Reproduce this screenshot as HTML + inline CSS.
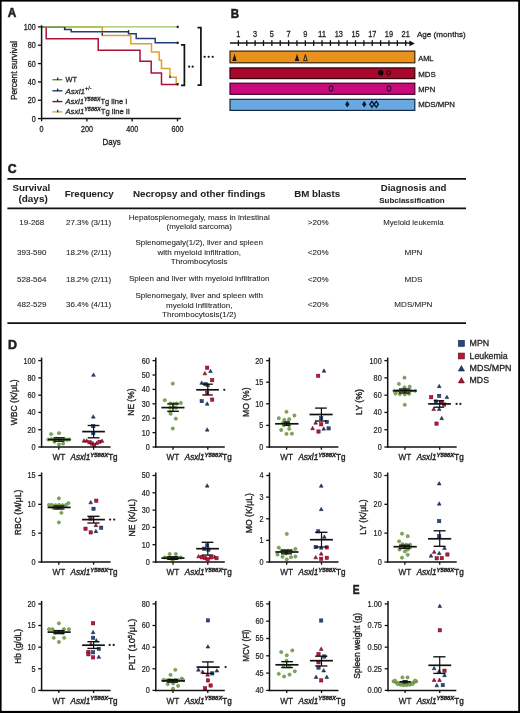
<!DOCTYPE html>
<html><head><meta charset="utf-8"><style>
html,body{margin:0;padding:0;background:#fff;}
body{width:520px;height:713px;overflow:hidden;}
svg{display:block;font-family:"Liberation Sans", sans-serif;will-change:transform;}
text{fill:#231f20;stroke:#231f20;stroke-width:0.28px;}
text[font-weight="bold"]{stroke-width:0.05px;}
text.pl{stroke-width:0.6px;}
text.tk{stroke-width:0.22px;}
text.yl{stroke-width:0.36px;}
text.tb{stroke-width:0.08px;}
text.xl{stroke-width:0.38px;}
</style></head><body>
<svg width="520" height="713" viewBox="0 0 520 713">
<rect width="520" height="713" fill="#fff"/>
<text x="7.80" y="17.20" font-size="13.4" text-anchor="start" font-weight="bold" textLength="8.50" lengthAdjust="spacingAndGlyphs" class="pl">A</text>
<path d="M41.60 26.90 L102.30 26.90 L102.30 35.40 L130.80 35.40 L130.80 43.80 L151.50 43.80 L151.50 52.00 L159.20 52.00 L159.20 60.30 L161.50 60.30 L161.50 68.50 L170.00 68.50 L170.00 77.20 L176.20 77.20 L176.20 83.80 L177.60 83.80" stroke="#e0a030" fill="none" stroke-width="1.5" stroke-linejoin="miter"/>
<path d="M41.60 26.90 L46.20 26.90 L46.20 38.80 L98.20 38.80 L98.20 50.30 L140.00 50.30 L140.00 61.20 L151.20 61.20 L151.20 73.00 L161.50 73.00 L161.50 84.60 L177.60 84.60" stroke="#aa1238" fill="none" stroke-width="1.5" stroke-linejoin="miter"/>
<path d="M41.60 26.90 L64.60 26.90 L64.60 29.50 L71.20 29.50 L71.20 31.70 L128.50 31.70 L128.50 33.80 L136.20 33.80 L136.20 38.50 L155.20 38.50 L155.20 42.80 L177.60 42.80" stroke="#243f78" fill="none" stroke-width="1.5" stroke-linejoin="miter"/>
<path d="M41.60 26.90 L177.60 26.90" stroke="#98c462" fill="none" stroke-width="1.35" stroke-linejoin="miter"/>
<rect x="176.70" y="25.70" width="2.00" height="2.40" fill="#231f20"/>
<rect x="176.70" y="41.60" width="2.00" height="2.40" fill="#231f20"/>
<rect x="176.70" y="83.00" width="2.00" height="2.40" fill="#231f20"/>
<rect x="64.00" y="27.40" width="1.20" height="2.40" fill="#231f20"/>
<rect x="101.70" y="33.00" width="1.20" height="2.40" fill="#231f20"/>
<rect x="127.90" y="30.10" width="1.20" height="2.40" fill="#231f20"/>
<rect x="169.40" y="75.60" width="1.20" height="2.40" fill="#231f20"/>
<line x1="41.60" y1="25.20" x2="41.60" y2="119.30" stroke="#111" stroke-width="1.5" stroke-linecap="butt"/>
<line x1="40.90" y1="118.60" x2="180.90" y2="118.60" stroke="#111" stroke-width="1.5" stroke-linecap="butt"/>
<line x1="37.90" y1="118.60" x2="41.60" y2="118.60" stroke="#111" stroke-width="1.3" stroke-linecap="butt"/>
<text x="35.70" y="121.54" font-size="8.2" text-anchor="end" textLength="4.00" lengthAdjust="spacingAndGlyphs" >0</text>
<line x1="37.90" y1="100.26" x2="41.60" y2="100.26" stroke="#111" stroke-width="1.3" stroke-linecap="butt"/>
<text x="35.70" y="103.20" font-size="8.2" text-anchor="end" textLength="8.00" lengthAdjust="spacingAndGlyphs" >20</text>
<line x1="37.90" y1="81.92" x2="41.60" y2="81.92" stroke="#111" stroke-width="1.3" stroke-linecap="butt"/>
<text x="35.70" y="84.86" font-size="8.2" text-anchor="end" textLength="8.00" lengthAdjust="spacingAndGlyphs" >40</text>
<line x1="37.90" y1="63.58" x2="41.60" y2="63.58" stroke="#111" stroke-width="1.3" stroke-linecap="butt"/>
<text x="35.70" y="66.52" font-size="8.2" text-anchor="end" textLength="8.00" lengthAdjust="spacingAndGlyphs" >60</text>
<line x1="37.90" y1="45.24" x2="41.60" y2="45.24" stroke="#111" stroke-width="1.3" stroke-linecap="butt"/>
<text x="35.70" y="48.18" font-size="8.2" text-anchor="end" textLength="8.00" lengthAdjust="spacingAndGlyphs" >80</text>
<line x1="37.90" y1="26.90" x2="41.60" y2="26.90" stroke="#111" stroke-width="1.3" stroke-linecap="butt"/>
<text x="35.70" y="29.84" font-size="8.2" text-anchor="end" textLength="12.00" lengthAdjust="spacingAndGlyphs" >100</text>
<line x1="41.60" y1="118.60" x2="41.60" y2="121.40" stroke="#111" stroke-width="1.3" stroke-linecap="butt"/>
<text x="41.60" y="132.34" font-size="8.2" text-anchor="middle" textLength="4.00" lengthAdjust="spacingAndGlyphs" >0</text>
<line x1="86.90" y1="118.60" x2="86.90" y2="121.40" stroke="#111" stroke-width="1.3" stroke-linecap="butt"/>
<text x="86.90" y="132.34" font-size="8.2" text-anchor="middle" textLength="12.00" lengthAdjust="spacingAndGlyphs" >200</text>
<line x1="132.20" y1="118.60" x2="132.20" y2="121.40" stroke="#111" stroke-width="1.3" stroke-linecap="butt"/>
<text x="132.20" y="132.34" font-size="8.2" text-anchor="middle" textLength="12.00" lengthAdjust="spacingAndGlyphs" >400</text>
<line x1="177.50" y1="118.60" x2="177.50" y2="121.40" stroke="#111" stroke-width="1.3" stroke-linecap="butt"/>
<text x="177.50" y="132.34" font-size="8.2" text-anchor="middle" textLength="12.00" lengthAdjust="spacingAndGlyphs" >600</text>
<text x="102.60" y="144.60" font-size="9.4" text-anchor="start" textLength="18.00" lengthAdjust="spacingAndGlyphs" class="yl">Days</text>
<text x="13.25" y="73.90" font-size="9.3" text-anchor="middle" textLength="59.00" lengthAdjust="spacingAndGlyphs" transform="rotate(-90 13.25 70.60)" class="yl">Percent survival</text>
<path d="M181.00 44.80 L184.40 44.80 L184.40 85.40 L181.00 85.40" stroke="#111" fill="none" stroke-width="1.7" />
<path d="M197.50 27.70 L200.90 27.70 L200.90 85.20 L197.50 85.20" stroke="#111" fill="none" stroke-width="1.7" />
<circle cx="189.10" cy="66.70" r="1.15" fill="#231f20"/>
<circle cx="192.70" cy="66.70" r="1.15" fill="#231f20"/>
<circle cx="204.70" cy="56.80" r="1.15" fill="#231f20"/>
<circle cx="208.70" cy="56.80" r="1.15" fill="#231f20"/>
<circle cx="212.70" cy="56.80" r="1.15" fill="#231f20"/>
<line x1="52.40" y1="79.70" x2="62.40" y2="79.70" stroke="#5f8a3a" stroke-width="1.4" stroke-linecap="butt"/>
<rect x="57.10" y="77.50" width="1.20" height="2.60" fill="#231f20"/>
<line x1="52.40" y1="90.80" x2="62.40" y2="90.80" stroke="#1e3a6a" stroke-width="1.4" stroke-linecap="butt"/>
<rect x="57.10" y="88.60" width="1.20" height="2.60" fill="#231f20"/>
<line x1="52.40" y1="101.60" x2="62.40" y2="101.60" stroke="#8a0f30" stroke-width="1.4" stroke-linecap="butt"/>
<rect x="57.10" y="99.40" width="1.20" height="2.60" fill="#231f20"/>
<line x1="52.40" y1="111.90" x2="62.40" y2="111.90" stroke="#d9a25a" stroke-width="1.4" stroke-linecap="butt"/>
<rect x="57.10" y="109.70" width="1.20" height="2.60" fill="#231f20"/>
<text x="65.50" y="82.06" font-size="8.0" text-anchor="start" textLength="11.50" lengthAdjust="spacingAndGlyphs" >WT</text>
<text x="65.50" y="93.76" font-size="8.0" text-anchor="start" textLength="26.00" lengthAdjust="spacingAndGlyphs" ><tspan font-style="italic">Asxl1</tspan><tspan font-size="5.4" dy="-3.4">+/-</tspan></text>
<text x="65.50" y="104.46" font-size="8.0" text-anchor="start" textLength="61.80" lengthAdjust="spacingAndGlyphs" ><tspan font-style="italic">Asxl1</tspan><tspan font-size="5.8" font-style="italic" font-weight="bold" dy="-3.5">Y588X</tspan><tspan dy="3.5">Tg line I</tspan></text>
<text x="65.50" y="114.16" font-size="8.0" text-anchor="start" textLength="64.50" lengthAdjust="spacingAndGlyphs" ><tspan font-style="italic">Asxl1</tspan><tspan font-size="5.8" font-style="italic" font-weight="bold" dy="-3.5">Y588X</tspan><tspan dy="3.5">Tg line II</tspan></text>
<text x="230.80" y="17.60" font-size="13.4" text-anchor="start" font-weight="bold" textLength="8.30" lengthAdjust="spacingAndGlyphs" class="pl">B</text>
<line x1="229.90" y1="43.10" x2="411.50" y2="43.10" stroke="#111" stroke-width="1.5" stroke-linecap="butt"/>
<path d="M414.8 43.4 L409.4 40.6 L409.4 46.2 Z" fill="#111"/>
<line x1="238.40" y1="40.20" x2="238.40" y2="46.00" stroke="#111" stroke-width="1.3" stroke-linecap="butt"/>
<line x1="246.77" y1="40.20" x2="246.77" y2="46.00" stroke="#111" stroke-width="1.3" stroke-linecap="butt"/>
<line x1="255.13" y1="40.20" x2="255.13" y2="46.00" stroke="#111" stroke-width="1.3" stroke-linecap="butt"/>
<line x1="263.50" y1="40.20" x2="263.50" y2="46.00" stroke="#111" stroke-width="1.3" stroke-linecap="butt"/>
<line x1="271.86" y1="40.20" x2="271.86" y2="46.00" stroke="#111" stroke-width="1.3" stroke-linecap="butt"/>
<line x1="280.23" y1="40.20" x2="280.23" y2="46.00" stroke="#111" stroke-width="1.3" stroke-linecap="butt"/>
<line x1="288.59" y1="40.20" x2="288.59" y2="46.00" stroke="#111" stroke-width="1.3" stroke-linecap="butt"/>
<line x1="296.95" y1="40.20" x2="296.95" y2="46.00" stroke="#111" stroke-width="1.3" stroke-linecap="butt"/>
<line x1="305.32" y1="40.20" x2="305.32" y2="46.00" stroke="#111" stroke-width="1.3" stroke-linecap="butt"/>
<line x1="313.69" y1="40.20" x2="313.69" y2="46.00" stroke="#111" stroke-width="1.3" stroke-linecap="butt"/>
<line x1="322.05" y1="40.20" x2="322.05" y2="46.00" stroke="#111" stroke-width="1.3" stroke-linecap="butt"/>
<line x1="330.42" y1="40.20" x2="330.42" y2="46.00" stroke="#111" stroke-width="1.3" stroke-linecap="butt"/>
<line x1="338.78" y1="40.20" x2="338.78" y2="46.00" stroke="#111" stroke-width="1.3" stroke-linecap="butt"/>
<line x1="347.14" y1="40.20" x2="347.14" y2="46.00" stroke="#111" stroke-width="1.3" stroke-linecap="butt"/>
<line x1="355.51" y1="40.20" x2="355.51" y2="46.00" stroke="#111" stroke-width="1.3" stroke-linecap="butt"/>
<line x1="363.88" y1="40.20" x2="363.88" y2="46.00" stroke="#111" stroke-width="1.3" stroke-linecap="butt"/>
<line x1="372.24" y1="40.20" x2="372.24" y2="46.00" stroke="#111" stroke-width="1.3" stroke-linecap="butt"/>
<line x1="380.61" y1="40.20" x2="380.61" y2="46.00" stroke="#111" stroke-width="1.3" stroke-linecap="butt"/>
<line x1="388.97" y1="40.20" x2="388.97" y2="46.00" stroke="#111" stroke-width="1.3" stroke-linecap="butt"/>
<line x1="397.34" y1="40.20" x2="397.34" y2="46.00" stroke="#111" stroke-width="1.3" stroke-linecap="butt"/>
<line x1="405.70" y1="40.20" x2="405.70" y2="46.00" stroke="#111" stroke-width="1.3" stroke-linecap="butt"/>
<text x="238.40" y="36.84" font-size="8.2" text-anchor="middle" textLength="4.10" lengthAdjust="spacingAndGlyphs" >1</text>
<text x="255.13" y="36.84" font-size="8.2" text-anchor="middle" textLength="4.10" lengthAdjust="spacingAndGlyphs" >3</text>
<text x="271.86" y="36.84" font-size="8.2" text-anchor="middle" textLength="4.10" lengthAdjust="spacingAndGlyphs" >5</text>
<text x="288.59" y="36.84" font-size="8.2" text-anchor="middle" textLength="4.10" lengthAdjust="spacingAndGlyphs" >7</text>
<text x="305.32" y="36.84" font-size="8.2" text-anchor="middle" textLength="4.10" lengthAdjust="spacingAndGlyphs" >9</text>
<text x="322.05" y="36.84" font-size="8.2" text-anchor="middle" textLength="8.20" lengthAdjust="spacingAndGlyphs" >11</text>
<text x="338.78" y="36.84" font-size="8.2" text-anchor="middle" textLength="8.20" lengthAdjust="spacingAndGlyphs" >13</text>
<text x="355.51" y="36.84" font-size="8.2" text-anchor="middle" textLength="8.20" lengthAdjust="spacingAndGlyphs" >15</text>
<text x="372.24" y="36.84" font-size="8.2" text-anchor="middle" textLength="8.20" lengthAdjust="spacingAndGlyphs" >17</text>
<text x="388.97" y="36.84" font-size="8.2" text-anchor="middle" textLength="8.20" lengthAdjust="spacingAndGlyphs" >19</text>
<text x="405.70" y="36.84" font-size="8.2" text-anchor="middle" textLength="8.20" lengthAdjust="spacingAndGlyphs" >21</text>
<text x="416.90" y="37.30" font-size="8.1" text-anchor="start" textLength="48.80" lengthAdjust="spacingAndGlyphs" >Age (months)</text>
<rect x="230.00" y="51.10" width="184.80" height="11.70" fill="#e8911d" stroke="#3d2606" stroke-width="1.2"/>
<rect x="230.00" y="67.90" width="184.80" height="10.70" fill="#a8082c" stroke="#330008" stroke-width="1.2"/>
<rect x="230.00" y="83.20" width="184.80" height="11.10" fill="#c80a7b" stroke="#40002a" stroke-width="1.2"/>
<rect x="230.00" y="99.30" width="184.80" height="11.10" fill="#6aa9e0" stroke="#122a44" stroke-width="1.2"/>
<text x="418.20" y="61.36" font-size="8.0" text-anchor="start" textLength="15.30" lengthAdjust="spacingAndGlyphs" >AML</text>
<text x="418.20" y="76.66" font-size="8.0" text-anchor="start" textLength="17.50" lengthAdjust="spacingAndGlyphs" >MDS</text>
<text x="418.20" y="92.46" font-size="8.0" text-anchor="start" textLength="17.00" lengthAdjust="spacingAndGlyphs" >MPN</text>
<text x="418.20" y="107.36" font-size="8.0" text-anchor="start" textLength="36.80" lengthAdjust="spacingAndGlyphs" >MDS/MPN</text>
<path d="M234.50 53.80 L236.70 61.00 L232.30 61.00 Z" stroke="none" fill="#1a1410" stroke-width="1.2" />
<path d="M297.00 53.80 L299.20 61.00 L294.80 61.00 Z" stroke="none" fill="#1a1410" stroke-width="1.2" />
<path d="M305.40 54.60 L307.20 60.60 L303.60 60.60 Z" stroke="#1a1410" fill="none" stroke-width="0.9" />
<circle cx="380.7" cy="72.8" r="2.8" fill="#0c0204"/>
<circle cx="388.6" cy="72.8" r="1.9" fill="none" stroke="#4a0010" stroke-width="1.4"/>
<ellipse cx="331.0" cy="88.5" rx="1.8" ry="2.6" fill="none" stroke="#45003a" stroke-width="1.4"/>
<ellipse cx="389.0" cy="88.5" rx="1.8" ry="2.6" fill="none" stroke="#45003a" stroke-width="1.4"/>
<path d="M347.30 101.00 L349.50 104.30 L347.30 107.60 L345.10 104.30 Z" stroke="none" fill="#0a1838" stroke-width="1.2" />
<path d="M364.20 101.00 L366.40 104.30 L364.20 107.60 L362.00 104.30 Z" stroke="none" fill="#0a1838" stroke-width="1.2" />
<path d="M371.90 101.40 L374.00 104.30 L371.90 107.20 L369.80 104.30 Z" stroke="#0a1838" fill="none" stroke-width="1.4" />
<path d="M376.30 101.40 L378.40 104.30 L376.30 107.20 L374.20 104.30 Z" stroke="#0a1838" fill="none" stroke-width="1.4" />
<text x="7.70" y="173.30" font-size="13.6" text-anchor="start" font-weight="bold" textLength="8.80" lengthAdjust="spacingAndGlyphs" class="pl">C</text>
<line x1="7.40" y1="178.90" x2="466.00" y2="178.90" stroke="#111" stroke-width="1.9" stroke-linecap="butt"/>
<line x1="7.40" y1="208.40" x2="466.00" y2="208.40" stroke="#111" stroke-width="1.6" stroke-linecap="butt"/>
<line x1="7.40" y1="323.10" x2="466.00" y2="323.10" stroke="#111" stroke-width="1.9" stroke-linecap="butt"/>
<text x="31.40" y="191.00" font-size="9.75" text-anchor="middle" font-weight="bold" textLength="37.70" lengthAdjust="spacingAndGlyphs" >Survival</text>
<text x="33.10" y="201.50" font-size="9.75" text-anchor="middle" font-weight="bold" textLength="29.20" lengthAdjust="spacingAndGlyphs" >(days)</text>
<text x="89.20" y="196.90" font-size="9.75" text-anchor="middle" font-weight="bold" textLength="49.10" lengthAdjust="spacingAndGlyphs" >Frequency</text>
<text x="199.20" y="196.90" font-size="9.75" text-anchor="middle" font-weight="bold" textLength="132.60" lengthAdjust="spacingAndGlyphs" >Necropsy and other findings</text>
<text x="317.20" y="196.90" font-size="9.75" text-anchor="middle" font-weight="bold" textLength="46.00" lengthAdjust="spacingAndGlyphs" >BM blasts</text>
<text x="413.60" y="190.60" font-size="9.75" text-anchor="middle" font-weight="bold" textLength="65.80" lengthAdjust="spacingAndGlyphs" >Diagnosis and</text>
<text x="412.00" y="203.00" font-size="8.0" text-anchor="middle" font-weight="bold" textLength="65.40" lengthAdjust="spacingAndGlyphs" >Subclassification</text>
<text x="31.80" y="225.16" font-size="8.0" text-anchor="middle" class="tb">19-268</text>
<text x="88.60" y="225.16" font-size="8.0" text-anchor="middle" class="tb">27.3% (3/11)</text>
<text x="199.20" y="220.26" font-size="8.0" text-anchor="middle" textLength="141.00" lengthAdjust="spacingAndGlyphs" class="tb">Hepatosplenomegaly, mass in intestinal</text>
<text x="199.20" y="228.86" font-size="8.0" text-anchor="middle" textLength="65.30" lengthAdjust="spacingAndGlyphs" class="tb">(myeloid sarcoma)</text>
<text x="318.20" y="225.16" font-size="8.0" text-anchor="middle" class="tb">&gt;20%</text>
<text x="413.40" y="225.16" font-size="8.0" text-anchor="middle" textLength="60.50" lengthAdjust="spacingAndGlyphs" class="tb">Myeloid leukemia</text>
<text x="31.80" y="254.86" font-size="8.0" text-anchor="middle" class="tb">393-590</text>
<text x="88.60" y="254.86" font-size="8.0" text-anchor="middle" class="tb">18.2% (2/11)</text>
<text x="199.20" y="245.26" font-size="8.0" text-anchor="middle" textLength="127.50" lengthAdjust="spacingAndGlyphs" class="tb">Splenomegaly(1/2), liver and spleen</text>
<text x="199.20" y="254.66" font-size="8.0" text-anchor="middle" textLength="83.40" lengthAdjust="spacingAndGlyphs" class="tb">with myeloid infiltration,</text>
<text x="199.20" y="264.06" font-size="8.0" text-anchor="middle" textLength="56.90" lengthAdjust="spacingAndGlyphs" class="tb">Thrombocytosis</text>
<text x="318.20" y="254.86" font-size="8.0" text-anchor="middle" class="tb">&lt;20%</text>
<text x="413.40" y="254.86" font-size="8.0" text-anchor="middle" textLength="18.00" lengthAdjust="spacingAndGlyphs" class="tb">MPN</text>
<text x="31.80" y="282.26" font-size="8.0" text-anchor="middle" class="tb">528-564</text>
<text x="88.60" y="282.26" font-size="8.0" text-anchor="middle" class="tb">18.2% (2/11)</text>
<text x="199.20" y="281.46" font-size="8.0" text-anchor="middle" textLength="140.50" lengthAdjust="spacingAndGlyphs" class="tb">Spleen and liver with myeloid infiltration</text>
<text x="318.20" y="282.26" font-size="8.0" text-anchor="middle" class="tb">&lt;20%</text>
<text x="413.40" y="282.26" font-size="8.0" text-anchor="middle" textLength="18.00" lengthAdjust="spacingAndGlyphs" class="tb">MDS</text>
<text x="31.80" y="307.16" font-size="8.0" text-anchor="middle" class="tb">482-529</text>
<text x="88.60" y="307.16" font-size="8.0" text-anchor="middle" class="tb">36.4% (4/11)</text>
<text x="199.20" y="298.46" font-size="8.0" text-anchor="middle" textLength="127.50" lengthAdjust="spacingAndGlyphs" class="tb">Splenomegaly, liver and spleen with</text>
<text x="199.20" y="307.66" font-size="8.0" text-anchor="middle" textLength="66.40" lengthAdjust="spacingAndGlyphs" class="tb">myeloid infiltration,</text>
<text x="199.20" y="316.86" font-size="8.0" text-anchor="middle" textLength="74.20" lengthAdjust="spacingAndGlyphs" class="tb">Thrombocytosis(1/2)</text>
<text x="318.20" y="307.16" font-size="8.0" text-anchor="middle" class="tb">&lt;20%</text>
<text x="413.40" y="307.16" font-size="8.0" text-anchor="middle" textLength="38.10" lengthAdjust="spacingAndGlyphs" class="tb">MDS/MPN</text>
<text x="8.10" y="348.60" font-size="13.4" text-anchor="start" font-weight="bold" textLength="9.00" lengthAdjust="spacingAndGlyphs" class="pl">D</text>
<text x="352.80" y="593.70" font-size="12.8" text-anchor="start" font-weight="bold" textLength="6.80" lengthAdjust="spacingAndGlyphs" class="pl">E</text>
<circle cx="51.10" cy="434.10" r="1.65" fill="#7eab52" stroke="#55783a" stroke-width="0.45"/>
<circle cx="59.00" cy="433.20" r="1.65" fill="#7eab52" stroke="#55783a" stroke-width="0.45"/>
<circle cx="48.30" cy="439.60" r="1.65" fill="#7eab52" stroke="#55783a" stroke-width="0.45"/>
<circle cx="51.40" cy="439.20" r="1.65" fill="#7eab52" stroke="#55783a" stroke-width="0.45"/>
<circle cx="54.50" cy="439.80" r="1.65" fill="#7eab52" stroke="#55783a" stroke-width="0.45"/>
<circle cx="56.30" cy="438.60" r="1.65" fill="#7eab52" stroke="#55783a" stroke-width="0.45"/>
<circle cx="61.20" cy="439.60" r="1.65" fill="#7eab52" stroke="#55783a" stroke-width="0.45"/>
<circle cx="64.30" cy="439.00" r="1.65" fill="#7eab52" stroke="#55783a" stroke-width="0.45"/>
<circle cx="66.80" cy="439.80" r="1.65" fill="#7eab52" stroke="#55783a" stroke-width="0.45"/>
<circle cx="69.20" cy="439.40" r="1.65" fill="#7eab52" stroke="#55783a" stroke-width="0.45"/>
<circle cx="59.00" cy="444.50" r="1.65" fill="#7eab52" stroke="#55783a" stroke-width="0.45"/>
<circle cx="63.10" cy="443.60" r="1.65" fill="#7eab52" stroke="#55783a" stroke-width="0.45"/>
<circle cx="54.50" cy="441.80" r="1.65" fill="#7eab52" stroke="#55783a" stroke-width="0.45"/>
<path d="M93.50 372.95 L95.40 376.37 L91.60 376.37 Z" fill="#243e68" stroke="#102440" stroke-width="0.5" stroke-linejoin="round"/>
<path d="M93.30 414.75 L95.20 418.17 L91.40 418.17 Z" fill="#243e68" stroke="#102440" stroke-width="0.5" stroke-linejoin="round"/>
<rect x="91.65" y="424.45" width="3.30" height="3.30" fill="#2b4882" stroke="#14264a" stroke-width="0.5"/>
<rect x="91.65" y="431.55" width="3.30" height="3.30" fill="#2b4882" stroke="#14264a" stroke-width="0.5"/>
<path d="M84.00 438.75 L85.90 442.17 L82.10 442.17 Z" fill="#a81234" stroke="#500818" stroke-width="0.5" stroke-linejoin="round"/>
<path d="M86.60 438.75 L88.50 442.17 L84.70 442.17 Z" fill="#a81234" stroke="#500818" stroke-width="0.5" stroke-linejoin="round"/>
<rect x="87.85" y="440.65" width="3.30" height="3.30" fill="#c0123a" stroke="#600818" stroke-width="0.5"/>
<rect x="90.35" y="441.85" width="3.30" height="3.30" fill="#c0123a" stroke="#600818" stroke-width="0.5"/>
<rect x="92.55" y="443.35" width="3.30" height="3.30" fill="#c0123a" stroke="#600818" stroke-width="0.5"/>
<path d="M96.60 441.15 L98.50 444.57 L94.70 444.57 Z" fill="#a81234" stroke="#500818" stroke-width="0.5" stroke-linejoin="round"/>
<rect x="97.85" y="440.15" width="3.30" height="3.30" fill="#c0123a" stroke="#600818" stroke-width="0.5"/>
<path d="M102.00 438.95 L103.90 442.37 L100.10 442.37 Z" fill="#a81234" stroke="#500818" stroke-width="0.5" stroke-linejoin="round"/>
<line x1="48.00" y1="439.60" x2="70.50" y2="439.60" stroke="#111" stroke-width="1.7" stroke-linecap="butt"/>
<line x1="58.80" y1="437.80" x2="58.80" y2="441.20" stroke="#111" stroke-width="1.2" stroke-linecap="butt"/>
<line x1="53.50" y1="437.80" x2="64.50" y2="437.80" stroke="#111" stroke-width="1.35" stroke-linecap="butt"/>
<line x1="53.50" y1="441.20" x2="64.50" y2="441.20" stroke="#111" stroke-width="1.35" stroke-linecap="butt"/>
<line x1="82.20" y1="431.60" x2="104.90" y2="431.60" stroke="#111" stroke-width="1.7" stroke-linecap="butt"/>
<line x1="93.60" y1="425.50" x2="93.60" y2="437.80" stroke="#111" stroke-width="1.2" stroke-linecap="butt"/>
<line x1="87.70" y1="425.50" x2="99.40" y2="425.50" stroke="#111" stroke-width="1.35" stroke-linecap="butt"/>
<line x1="87.70" y1="437.80" x2="99.40" y2="437.80" stroke="#111" stroke-width="1.35" stroke-linecap="butt"/>
<line x1="41.60" y1="357.60" x2="41.60" y2="447.75" stroke="#111" stroke-width="1.5" stroke-linecap="butt"/>
<line x1="40.85" y1="447.00" x2="110.60" y2="447.00" stroke="#111" stroke-width="1.5" stroke-linecap="butt"/>
<line x1="38.30" y1="447.00" x2="41.60" y2="447.00" stroke="#111" stroke-width="1.3" stroke-linecap="butt"/>
<text x="35.60" y="449.94" font-size="8.2" text-anchor="end" textLength="4.05" lengthAdjust="spacingAndGlyphs" class="tk">0</text>
<line x1="38.30" y1="429.72" x2="41.60" y2="429.72" stroke="#111" stroke-width="1.3" stroke-linecap="butt"/>
<text x="35.60" y="432.66" font-size="8.2" text-anchor="end" textLength="8.10" lengthAdjust="spacingAndGlyphs" class="tk">20</text>
<line x1="38.30" y1="412.44" x2="41.60" y2="412.44" stroke="#111" stroke-width="1.3" stroke-linecap="butt"/>
<text x="35.60" y="415.38" font-size="8.2" text-anchor="end" textLength="8.10" lengthAdjust="spacingAndGlyphs" class="tk">40</text>
<line x1="38.30" y1="395.16" x2="41.60" y2="395.16" stroke="#111" stroke-width="1.3" stroke-linecap="butt"/>
<text x="35.60" y="398.10" font-size="8.2" text-anchor="end" textLength="8.10" lengthAdjust="spacingAndGlyphs" class="tk">60</text>
<line x1="38.30" y1="377.88" x2="41.60" y2="377.88" stroke="#111" stroke-width="1.3" stroke-linecap="butt"/>
<text x="35.60" y="380.82" font-size="8.2" text-anchor="end" textLength="8.10" lengthAdjust="spacingAndGlyphs" class="tk">80</text>
<line x1="38.30" y1="360.60" x2="41.60" y2="360.60" stroke="#111" stroke-width="1.3" stroke-linecap="butt"/>
<text x="35.60" y="363.54" font-size="8.2" text-anchor="end" textLength="12.15" lengthAdjust="spacingAndGlyphs" class="tk">100</text>
<line x1="58.80" y1="447.00" x2="58.80" y2="449.70" stroke="#111" stroke-width="1.3" stroke-linecap="butt"/>
<line x1="93.60" y1="447.00" x2="93.60" y2="449.70" stroke="#111" stroke-width="1.3" stroke-linecap="butt"/>
<text x="58.80" y="460.40" font-size="8.2" text-anchor="middle" textLength="12.80" lengthAdjust="spacingAndGlyphs" >WT</text>
<text x="70.60" y="460.40" font-size="8.2" textLength="47.0" lengthAdjust="spacingAndGlyphs" class="xl"><tspan font-style="italic">Asxl1</tspan><tspan font-size="6.0" font-style="italic" font-weight="bold" dy="-3.9">Y588X</tspan><tspan dy="3.9">Tg</tspan></text>
<text class="yl" x="0" y="0" font-size="9.4" text-anchor="middle" textLength="45.80" lengthAdjust="spacingAndGlyphs" transform="translate(16.70 402.40) rotate(-90)">WBC (K/μL)</text>
<circle cx="172.80" cy="383.60" r="1.65" fill="#7eab52" stroke="#55783a" stroke-width="0.45"/>
<circle cx="164.80" cy="400.20" r="1.65" fill="#7eab52" stroke="#55783a" stroke-width="0.45"/>
<circle cx="170.30" cy="403.50" r="1.65" fill="#7eab52" stroke="#55783a" stroke-width="0.45"/>
<circle cx="173.40" cy="403.80" r="1.65" fill="#7eab52" stroke="#55783a" stroke-width="0.45"/>
<circle cx="176.50" cy="403.50" r="1.65" fill="#7eab52" stroke="#55783a" stroke-width="0.45"/>
<circle cx="180.80" cy="403.00" r="1.65" fill="#7eab52" stroke="#55783a" stroke-width="0.45"/>
<circle cx="170.00" cy="407.60" r="1.65" fill="#7eab52" stroke="#55783a" stroke-width="0.45"/>
<circle cx="173.50" cy="407.20" r="1.65" fill="#7eab52" stroke="#55783a" stroke-width="0.45"/>
<circle cx="176.00" cy="407.80" r="1.65" fill="#7eab52" stroke="#55783a" stroke-width="0.45"/>
<circle cx="170.30" cy="412.00" r="1.65" fill="#7eab52" stroke="#55783a" stroke-width="0.45"/>
<circle cx="170.60" cy="413.80" r="1.65" fill="#7eab52" stroke="#55783a" stroke-width="0.45"/>
<circle cx="175.80" cy="418.70" r="1.65" fill="#7eab52" stroke="#55783a" stroke-width="0.45"/>
<circle cx="172.80" cy="428.50" r="1.65" fill="#7eab52" stroke="#55783a" stroke-width="0.45"/>
<rect x="205.55" y="366.05" width="3.30" height="3.30" fill="#c0123a" stroke="#600818" stroke-width="0.5"/>
<path d="M204.90 371.45 L206.80 374.87 L203.00 374.87 Z" fill="#a81234" stroke="#500818" stroke-width="0.5" stroke-linejoin="round"/>
<path d="M210.50 369.15 L212.40 372.57 L208.60 372.57 Z" fill="#243e68" stroke="#102440" stroke-width="0.5" stroke-linejoin="round"/>
<rect x="210.55" y="378.55" width="3.30" height="3.30" fill="#c0123a" stroke="#600818" stroke-width="0.5"/>
<path d="M201.70 380.95 L203.60 384.37 L199.80 384.37 Z" fill="#243e68" stroke="#102440" stroke-width="0.5" stroke-linejoin="round"/>
<rect x="203.85" y="382.55" width="3.30" height="3.30" fill="#2b4882" stroke="#14264a" stroke-width="0.5"/>
<path d="M207.80 383.15 L209.70 386.57 L205.90 386.57 Z" fill="#243e68" stroke="#102440" stroke-width="0.5" stroke-linejoin="round"/>
<rect x="205.55" y="391.15" width="3.30" height="3.30" fill="#c0123a" stroke="#600818" stroke-width="0.5"/>
<rect x="210.55" y="397.95" width="3.30" height="3.30" fill="#c0123a" stroke="#600818" stroke-width="0.5"/>
<rect x="200.05" y="399.45" width="3.30" height="3.30" fill="#2b4882" stroke="#14264a" stroke-width="0.5"/>
<path d="M207.20 401.85 L209.10 405.27 L205.30 405.27 Z" fill="#243e68" stroke="#102440" stroke-width="0.5" stroke-linejoin="round"/>
<path d="M207.20 427.75 L209.10 431.17 L205.30 431.17 Z" fill="#243e68" stroke="#102440" stroke-width="0.5" stroke-linejoin="round"/>
<line x1="161.40" y1="407.60" x2="184.50" y2="407.60" stroke="#111" stroke-width="1.7" stroke-linecap="butt"/>
<line x1="173.00" y1="403.90" x2="173.00" y2="411.30" stroke="#111" stroke-width="1.2" stroke-linecap="butt"/>
<line x1="167.20" y1="403.90" x2="178.90" y2="403.90" stroke="#111" stroke-width="1.35" stroke-linecap="butt"/>
<line x1="167.20" y1="411.30" x2="178.90" y2="411.30" stroke="#111" stroke-width="1.35" stroke-linecap="butt"/>
<line x1="196.20" y1="389.80" x2="218.90" y2="389.80" stroke="#111" stroke-width="1.7" stroke-linecap="butt"/>
<line x1="207.80" y1="384.20" x2="207.80" y2="395.00" stroke="#111" stroke-width="1.2" stroke-linecap="butt"/>
<line x1="202.30" y1="384.20" x2="212.80" y2="384.20" stroke="#111" stroke-width="1.35" stroke-linecap="butt"/>
<line x1="202.30" y1="395.00" x2="212.80" y2="395.00" stroke="#111" stroke-width="1.35" stroke-linecap="butt"/>
<line x1="155.80" y1="357.60" x2="155.80" y2="447.75" stroke="#111" stroke-width="1.5" stroke-linecap="butt"/>
<line x1="155.05" y1="447.00" x2="224.80" y2="447.00" stroke="#111" stroke-width="1.5" stroke-linecap="butt"/>
<line x1="152.50" y1="447.00" x2="155.80" y2="447.00" stroke="#111" stroke-width="1.3" stroke-linecap="butt"/>
<text x="149.80" y="449.94" font-size="8.2" text-anchor="end" textLength="4.05" lengthAdjust="spacingAndGlyphs" class="tk">0</text>
<line x1="152.50" y1="432.60" x2="155.80" y2="432.60" stroke="#111" stroke-width="1.3" stroke-linecap="butt"/>
<text x="149.80" y="435.54" font-size="8.2" text-anchor="end" textLength="8.10" lengthAdjust="spacingAndGlyphs" class="tk">10</text>
<line x1="152.50" y1="418.20" x2="155.80" y2="418.20" stroke="#111" stroke-width="1.3" stroke-linecap="butt"/>
<text x="149.80" y="421.14" font-size="8.2" text-anchor="end" textLength="8.10" lengthAdjust="spacingAndGlyphs" class="tk">20</text>
<line x1="152.50" y1="403.80" x2="155.80" y2="403.80" stroke="#111" stroke-width="1.3" stroke-linecap="butt"/>
<text x="149.80" y="406.74" font-size="8.2" text-anchor="end" textLength="8.10" lengthAdjust="spacingAndGlyphs" class="tk">30</text>
<line x1="152.50" y1="389.40" x2="155.80" y2="389.40" stroke="#111" stroke-width="1.3" stroke-linecap="butt"/>
<text x="149.80" y="392.34" font-size="8.2" text-anchor="end" textLength="8.10" lengthAdjust="spacingAndGlyphs" class="tk">40</text>
<line x1="152.50" y1="375.00" x2="155.80" y2="375.00" stroke="#111" stroke-width="1.3" stroke-linecap="butt"/>
<text x="149.80" y="377.94" font-size="8.2" text-anchor="end" textLength="8.10" lengthAdjust="spacingAndGlyphs" class="tk">50</text>
<line x1="152.50" y1="360.60" x2="155.80" y2="360.60" stroke="#111" stroke-width="1.3" stroke-linecap="butt"/>
<text x="149.80" y="363.54" font-size="8.2" text-anchor="end" textLength="8.10" lengthAdjust="spacingAndGlyphs" class="tk">60</text>
<line x1="173.00" y1="447.00" x2="173.00" y2="449.70" stroke="#111" stroke-width="1.3" stroke-linecap="butt"/>
<line x1="207.80" y1="447.00" x2="207.80" y2="449.70" stroke="#111" stroke-width="1.3" stroke-linecap="butt"/>
<text x="173.00" y="460.40" font-size="8.2" text-anchor="middle" textLength="12.80" lengthAdjust="spacingAndGlyphs" >WT</text>
<text x="184.80" y="460.40" font-size="8.2" textLength="47.0" lengthAdjust="spacingAndGlyphs" class="xl"><tspan font-style="italic">Asxl1</tspan><tspan font-size="6.0" font-style="italic" font-weight="bold" dy="-3.9">Y588X</tspan><tspan dy="3.9">Tg</tspan></text>
<text class="yl" x="0" y="0" font-size="9.4" text-anchor="middle" textLength="27.10" lengthAdjust="spacingAndGlyphs" transform="translate(134.20 402.10) rotate(-90)">NE (%)</text>
<circle cx="224.30" cy="389.80" r="1.15" fill="#231f20"/>
<circle cx="286.50" cy="411.80" r="1.65" fill="#7eab52" stroke="#55783a" stroke-width="0.45"/>
<circle cx="294.40" cy="415.50" r="1.65" fill="#7eab52" stroke="#55783a" stroke-width="0.45"/>
<circle cx="278.80" cy="418.20" r="1.65" fill="#7eab52" stroke="#55783a" stroke-width="0.45"/>
<circle cx="284.30" cy="419.80" r="1.65" fill="#7eab52" stroke="#55783a" stroke-width="0.45"/>
<circle cx="289.20" cy="419.20" r="1.65" fill="#7eab52" stroke="#55783a" stroke-width="0.45"/>
<circle cx="283.00" cy="422.80" r="1.65" fill="#7eab52" stroke="#55783a" stroke-width="0.45"/>
<circle cx="285.50" cy="422.60" r="1.65" fill="#7eab52" stroke="#55783a" stroke-width="0.45"/>
<circle cx="288.00" cy="422.20" r="1.65" fill="#7eab52" stroke="#55783a" stroke-width="0.45"/>
<circle cx="283.70" cy="425.30" r="1.65" fill="#7eab52" stroke="#55783a" stroke-width="0.45"/>
<circle cx="289.20" cy="425.30" r="1.65" fill="#7eab52" stroke="#55783a" stroke-width="0.45"/>
<circle cx="281.20" cy="430.00" r="1.65" fill="#7eab52" stroke="#55783a" stroke-width="0.45"/>
<circle cx="289.20" cy="428.80" r="1.65" fill="#7eab52" stroke="#55783a" stroke-width="0.45"/>
<circle cx="286.50" cy="433.90" r="1.65" fill="#7eab52" stroke="#55783a" stroke-width="0.45"/>
<circle cx="291.90" cy="433.70" r="1.65" fill="#7eab52" stroke="#55783a" stroke-width="0.45"/>
<rect x="316.55" y="374.15" width="3.30" height="3.30" fill="#c0123a" stroke="#600818" stroke-width="0.5"/>
<path d="M324.00 368.85 L325.90 372.27 L322.10 372.27 Z" fill="#243e68" stroke="#102440" stroke-width="0.5" stroke-linejoin="round"/>
<path d="M315.70 420.75 L317.60 424.17 L313.80 424.17 Z" fill="#a81234" stroke="#500818" stroke-width="0.5" stroke-linejoin="round"/>
<rect x="319.55" y="422.65" width="3.30" height="3.30" fill="#c0123a" stroke="#600818" stroke-width="0.5"/>
<rect x="325.15" y="420.25" width="3.30" height="3.30" fill="#2b4882" stroke="#14264a" stroke-width="0.5"/>
<path d="M312.60 426.35 L314.50 429.77 L310.70 429.77 Z" fill="#a81234" stroke="#500818" stroke-width="0.5" stroke-linejoin="round"/>
<rect x="316.85" y="429.85" width="3.30" height="3.30" fill="#c0123a" stroke="#600818" stroke-width="0.5"/>
<path d="M323.70 426.75 L325.60 430.17 L321.80 430.17 Z" fill="#243e68" stroke="#102440" stroke-width="0.5" stroke-linejoin="round"/>
<rect x="326.95" y="426.75" width="3.30" height="3.30" fill="#2b4882" stroke="#14264a" stroke-width="0.5"/>
<rect x="319.55" y="416.55" width="3.30" height="3.30" fill="#2b4882" stroke="#14264a" stroke-width="0.5"/>
<line x1="275.10" y1="423.80" x2="298.50" y2="423.80" stroke="#111" stroke-width="1.7" stroke-linecap="butt"/>
<line x1="286.60" y1="422.20" x2="286.60" y2="425.30" stroke="#111" stroke-width="1.2" stroke-linecap="butt"/>
<line x1="283.70" y1="422.20" x2="289.80" y2="422.20" stroke="#111" stroke-width="1.35" stroke-linecap="butt"/>
<line x1="283.70" y1="425.30" x2="289.80" y2="425.30" stroke="#111" stroke-width="1.35" stroke-linecap="butt"/>
<line x1="309.50" y1="414.50" x2="332.60" y2="414.50" stroke="#111" stroke-width="1.7" stroke-linecap="butt"/>
<line x1="321.40" y1="408.10" x2="321.40" y2="421.00" stroke="#111" stroke-width="1.2" stroke-linecap="butt"/>
<line x1="315.10" y1="408.10" x2="326.80" y2="408.10" stroke="#111" stroke-width="1.35" stroke-linecap="butt"/>
<line x1="315.10" y1="421.00" x2="326.80" y2="421.00" stroke="#111" stroke-width="1.35" stroke-linecap="butt"/>
<line x1="269.40" y1="357.60" x2="269.40" y2="447.75" stroke="#111" stroke-width="1.5" stroke-linecap="butt"/>
<line x1="268.65" y1="447.00" x2="338.40" y2="447.00" stroke="#111" stroke-width="1.5" stroke-linecap="butt"/>
<line x1="266.10" y1="447.00" x2="269.40" y2="447.00" stroke="#111" stroke-width="1.3" stroke-linecap="butt"/>
<text x="263.40" y="449.94" font-size="8.2" text-anchor="end" textLength="4.05" lengthAdjust="spacingAndGlyphs" class="tk">0</text>
<line x1="266.10" y1="425.40" x2="269.40" y2="425.40" stroke="#111" stroke-width="1.3" stroke-linecap="butt"/>
<text x="263.40" y="428.34" font-size="8.2" text-anchor="end" textLength="4.05" lengthAdjust="spacingAndGlyphs" class="tk">5</text>
<line x1="266.10" y1="403.80" x2="269.40" y2="403.80" stroke="#111" stroke-width="1.3" stroke-linecap="butt"/>
<text x="263.40" y="406.74" font-size="8.2" text-anchor="end" textLength="8.10" lengthAdjust="spacingAndGlyphs" class="tk">10</text>
<line x1="266.10" y1="382.20" x2="269.40" y2="382.20" stroke="#111" stroke-width="1.3" stroke-linecap="butt"/>
<text x="263.40" y="385.14" font-size="8.2" text-anchor="end" textLength="8.10" lengthAdjust="spacingAndGlyphs" class="tk">15</text>
<line x1="266.10" y1="360.60" x2="269.40" y2="360.60" stroke="#111" stroke-width="1.3" stroke-linecap="butt"/>
<text x="263.40" y="363.54" font-size="8.2" text-anchor="end" textLength="8.10" lengthAdjust="spacingAndGlyphs" class="tk">20</text>
<line x1="286.60" y1="447.00" x2="286.60" y2="449.70" stroke="#111" stroke-width="1.3" stroke-linecap="butt"/>
<line x1="321.40" y1="447.00" x2="321.40" y2="449.70" stroke="#111" stroke-width="1.3" stroke-linecap="butt"/>
<text x="286.60" y="460.40" font-size="8.2" text-anchor="middle" textLength="12.80" lengthAdjust="spacingAndGlyphs" >WT</text>
<text x="298.40" y="460.40" font-size="8.2" textLength="47.0" lengthAdjust="spacingAndGlyphs" class="xl"><tspan font-style="italic">Asxl1</tspan><tspan font-size="6.0" font-style="italic" font-weight="bold" dy="-3.9">Y588X</tspan><tspan dy="3.9">Tg</tspan></text>
<text class="yl" x="0" y="0" font-size="9.4" text-anchor="middle" textLength="29.50" lengthAdjust="spacingAndGlyphs" transform="translate(248.50 402.20) rotate(-90)">MO (%)</text>
<circle cx="404.50" cy="377.70" r="1.65" fill="#7eab52" stroke="#55783a" stroke-width="0.45"/>
<circle cx="398.90" cy="383.90" r="1.65" fill="#7eab52" stroke="#55783a" stroke-width="0.45"/>
<circle cx="404.50" cy="387.30" r="1.65" fill="#7eab52" stroke="#55783a" stroke-width="0.45"/>
<circle cx="409.70" cy="386.70" r="1.65" fill="#7eab52" stroke="#55783a" stroke-width="0.45"/>
<circle cx="394.30" cy="390.80" r="1.65" fill="#7eab52" stroke="#55783a" stroke-width="0.45"/>
<circle cx="397.40" cy="390.80" r="1.65" fill="#7eab52" stroke="#55783a" stroke-width="0.45"/>
<circle cx="400.50" cy="390.60" r="1.65" fill="#7eab52" stroke="#55783a" stroke-width="0.45"/>
<circle cx="403.50" cy="391.00" r="1.65" fill="#7eab52" stroke="#55783a" stroke-width="0.45"/>
<circle cx="407.20" cy="390.80" r="1.65" fill="#7eab52" stroke="#55783a" stroke-width="0.45"/>
<circle cx="410.90" cy="390.60" r="1.65" fill="#7eab52" stroke="#55783a" stroke-width="0.45"/>
<circle cx="415.20" cy="390.80" r="1.65" fill="#7eab52" stroke="#55783a" stroke-width="0.45"/>
<circle cx="395.50" cy="393.60" r="1.65" fill="#7eab52" stroke="#55783a" stroke-width="0.45"/>
<circle cx="399.80" cy="394.00" r="1.65" fill="#7eab52" stroke="#55783a" stroke-width="0.45"/>
<circle cx="404.80" cy="394.40" r="1.65" fill="#7eab52" stroke="#55783a" stroke-width="0.45"/>
<circle cx="409.10" cy="393.80" r="1.65" fill="#7eab52" stroke="#55783a" stroke-width="0.45"/>
<circle cx="404.80" cy="404.80" r="1.65" fill="#7eab52" stroke="#55783a" stroke-width="0.45"/>
<path d="M439.20 384.25 L441.10 387.67 L437.30 387.67 Z" fill="#243e68" stroke="#102440" stroke-width="0.5" stroke-linejoin="round"/>
<rect x="429.55" y="395.55" width="3.30" height="3.30" fill="#c0123a" stroke="#600818" stroke-width="0.5"/>
<rect x="437.55" y="394.25" width="3.30" height="3.30" fill="#2b4882" stroke="#14264a" stroke-width="0.5"/>
<path d="M446.90 395.15 L448.80 398.57 L445.00 398.57 Z" fill="#243e68" stroke="#102440" stroke-width="0.5" stroke-linejoin="round"/>
<rect x="434.35" y="399.85" width="3.30" height="3.30" fill="#2b4882" stroke="#14264a" stroke-width="0.5"/>
<rect x="439.85" y="400.35" width="3.30" height="3.30" fill="#c0123a" stroke="#600818" stroke-width="0.5"/>
<rect x="442.55" y="402.85" width="3.30" height="3.30" fill="#c0123a" stroke="#600818" stroke-width="0.5"/>
<path d="M433.70 407.15 L435.60 410.57 L431.80 410.57 Z" fill="#a81234" stroke="#500818" stroke-width="0.5" stroke-linejoin="round"/>
<path d="M439.20 407.15 L441.10 410.57 L437.30 410.57 Z" fill="#243e68" stroke="#102440" stroke-width="0.5" stroke-linejoin="round"/>
<path d="M441.70 416.25 L443.60 419.67 L439.80 419.67 Z" fill="#243e68" stroke="#102440" stroke-width="0.5" stroke-linejoin="round"/>
<rect x="434.85" y="421.95" width="3.30" height="3.30" fill="#c0123a" stroke="#600818" stroke-width="0.5"/>
<line x1="393.40" y1="390.80" x2="416.50" y2="390.80" stroke="#111" stroke-width="1.7" stroke-linecap="butt"/>
<line x1="404.90" y1="389.00" x2="404.90" y2="393.00" stroke="#111" stroke-width="1.2" stroke-linecap="butt"/>
<line x1="399.00" y1="389.00" x2="410.00" y2="389.00" stroke="#111" stroke-width="1.35" stroke-linecap="butt"/>
<line x1="399.00" y1="393.00" x2="410.00" y2="393.00" stroke="#111" stroke-width="1.35" stroke-linecap="butt"/>
<line x1="428.20" y1="403.90" x2="450.90" y2="403.90" stroke="#111" stroke-width="1.7" stroke-linecap="butt"/>
<line x1="439.70" y1="400.80" x2="439.70" y2="407.20" stroke="#111" stroke-width="1.2" stroke-linecap="butt"/>
<line x1="433.70" y1="400.80" x2="444.20" y2="400.80" stroke="#111" stroke-width="1.35" stroke-linecap="butt"/>
<line x1="433.70" y1="407.20" x2="444.20" y2="407.20" stroke="#111" stroke-width="1.35" stroke-linecap="butt"/>
<line x1="387.70" y1="357.60" x2="387.70" y2="447.75" stroke="#111" stroke-width="1.5" stroke-linecap="butt"/>
<line x1="386.95" y1="447.00" x2="456.70" y2="447.00" stroke="#111" stroke-width="1.5" stroke-linecap="butt"/>
<line x1="384.40" y1="447.00" x2="387.70" y2="447.00" stroke="#111" stroke-width="1.3" stroke-linecap="butt"/>
<text x="381.70" y="449.94" font-size="8.2" text-anchor="end" textLength="4.05" lengthAdjust="spacingAndGlyphs" class="tk">0</text>
<line x1="384.40" y1="429.72" x2="387.70" y2="429.72" stroke="#111" stroke-width="1.3" stroke-linecap="butt"/>
<text x="381.70" y="432.66" font-size="8.2" text-anchor="end" textLength="8.10" lengthAdjust="spacingAndGlyphs" class="tk">20</text>
<line x1="384.40" y1="412.44" x2="387.70" y2="412.44" stroke="#111" stroke-width="1.3" stroke-linecap="butt"/>
<text x="381.70" y="415.38" font-size="8.2" text-anchor="end" textLength="8.10" lengthAdjust="spacingAndGlyphs" class="tk">40</text>
<line x1="384.40" y1="395.16" x2="387.70" y2="395.16" stroke="#111" stroke-width="1.3" stroke-linecap="butt"/>
<text x="381.70" y="398.10" font-size="8.2" text-anchor="end" textLength="8.10" lengthAdjust="spacingAndGlyphs" class="tk">60</text>
<line x1="384.40" y1="377.88" x2="387.70" y2="377.88" stroke="#111" stroke-width="1.3" stroke-linecap="butt"/>
<text x="381.70" y="380.82" font-size="8.2" text-anchor="end" textLength="8.10" lengthAdjust="spacingAndGlyphs" class="tk">80</text>
<line x1="384.40" y1="360.60" x2="387.70" y2="360.60" stroke="#111" stroke-width="1.3" stroke-linecap="butt"/>
<text x="381.70" y="363.54" font-size="8.2" text-anchor="end" textLength="12.15" lengthAdjust="spacingAndGlyphs" class="tk">100</text>
<line x1="404.90" y1="447.00" x2="404.90" y2="449.70" stroke="#111" stroke-width="1.3" stroke-linecap="butt"/>
<line x1="439.70" y1="447.00" x2="439.70" y2="449.70" stroke="#111" stroke-width="1.3" stroke-linecap="butt"/>
<text x="404.90" y="460.40" font-size="8.2" text-anchor="middle" textLength="12.80" lengthAdjust="spacingAndGlyphs" >WT</text>
<text x="416.70" y="460.40" font-size="8.2" textLength="47.0" lengthAdjust="spacingAndGlyphs" class="xl"><tspan font-style="italic">Asxl1</tspan><tspan font-size="6.0" font-style="italic" font-weight="bold" dy="-3.9">Y588X</tspan><tspan dy="3.9">Tg</tspan></text>
<text class="yl" x="0" y="0" font-size="9.4" text-anchor="middle" textLength="26.10" lengthAdjust="spacingAndGlyphs" transform="translate(362.00 402.00) rotate(-90)">LY (%)</text>
<circle cx="456.60" cy="403.90" r="1.15" fill="#231f20"/>
<circle cx="460.40" cy="403.90" r="1.15" fill="#231f20"/>
<circle cx="58.90" cy="498.30" r="1.65" fill="#7eab52" stroke="#55783a" stroke-width="0.45"/>
<circle cx="68.50" cy="503.10" r="1.65" fill="#7eab52" stroke="#55783a" stroke-width="0.45"/>
<circle cx="49.00" cy="504.90" r="1.65" fill="#7eab52" stroke="#55783a" stroke-width="0.45"/>
<circle cx="51.80" cy="505.00" r="1.65" fill="#7eab52" stroke="#55783a" stroke-width="0.45"/>
<circle cx="55.40" cy="505.20" r="1.65" fill="#7eab52" stroke="#55783a" stroke-width="0.45"/>
<circle cx="58.90" cy="505.00" r="1.65" fill="#7eab52" stroke="#55783a" stroke-width="0.45"/>
<circle cx="62.50" cy="505.20" r="1.65" fill="#7eab52" stroke="#55783a" stroke-width="0.45"/>
<circle cx="66.00" cy="504.90" r="1.65" fill="#7eab52" stroke="#55783a" stroke-width="0.45"/>
<circle cx="53.00" cy="507.60" r="1.65" fill="#7eab52" stroke="#55783a" stroke-width="0.45"/>
<circle cx="57.00" cy="507.80" r="1.65" fill="#7eab52" stroke="#55783a" stroke-width="0.45"/>
<circle cx="61.00" cy="507.60" r="1.65" fill="#7eab52" stroke="#55783a" stroke-width="0.45"/>
<circle cx="61.40" cy="512.80" r="1.65" fill="#7eab52" stroke="#55783a" stroke-width="0.45"/>
<circle cx="58.90" cy="522.40" r="1.65" fill="#7eab52" stroke="#55783a" stroke-width="0.45"/>
<path d="M90.70 500.45 L92.60 503.87 L88.80 503.87 Z" fill="#243e68" stroke="#102440" stroke-width="0.5" stroke-linejoin="round"/>
<rect x="94.65" y="499.05" width="3.30" height="3.30" fill="#c0123a" stroke="#600818" stroke-width="0.5"/>
<rect x="91.85" y="507.15" width="3.30" height="3.30" fill="#2b4882" stroke="#14264a" stroke-width="0.5"/>
<rect x="88.85" y="516.85" width="3.30" height="3.30" fill="#c0123a" stroke="#600818" stroke-width="0.5"/>
<path d="M95.90 523.25 L97.80 526.67 L94.00 526.67 Z" fill="#a81234" stroke="#500818" stroke-width="0.5" stroke-linejoin="round"/>
<rect x="99.55" y="526.05" width="3.30" height="3.30" fill="#2b4882" stroke="#14264a" stroke-width="0.5"/>
<rect x="83.85" y="527.05" width="3.30" height="3.30" fill="#c0123a" stroke="#600818" stroke-width="0.5"/>
<rect x="89.05" y="530.75" width="3.30" height="3.30" fill="#c0123a" stroke="#600818" stroke-width="0.5"/>
<path d="M95.90 529.25 L97.80 532.67 L94.00 532.67 Z" fill="#243e68" stroke="#102440" stroke-width="0.5" stroke-linejoin="round"/>
<line x1="47.60" y1="507.40" x2="70.70" y2="507.40" stroke="#111" stroke-width="1.7" stroke-linecap="butt"/>
<line x1="58.80" y1="506.00" x2="58.80" y2="509.00" stroke="#111" stroke-width="1.2" stroke-linecap="butt"/>
<line x1="53.50" y1="506.00" x2="64.50" y2="506.00" stroke="#111" stroke-width="1.35" stroke-linecap="butt"/>
<line x1="53.50" y1="509.00" x2="64.50" y2="509.00" stroke="#111" stroke-width="1.35" stroke-linecap="butt"/>
<line x1="82.10" y1="519.60" x2="104.90" y2="519.60" stroke="#111" stroke-width="1.7" stroke-linecap="butt"/>
<line x1="93.60" y1="516.30" x2="93.60" y2="523.00" stroke="#111" stroke-width="1.2" stroke-linecap="butt"/>
<line x1="87.40" y1="516.30" x2="99.50" y2="516.30" stroke="#111" stroke-width="1.35" stroke-linecap="butt"/>
<line x1="87.40" y1="523.00" x2="99.50" y2="523.00" stroke="#111" stroke-width="1.35" stroke-linecap="butt"/>
<line x1="41.60" y1="472.50" x2="41.60" y2="562.75" stroke="#111" stroke-width="1.5" stroke-linecap="butt"/>
<line x1="40.85" y1="562.00" x2="110.60" y2="562.00" stroke="#111" stroke-width="1.5" stroke-linecap="butt"/>
<line x1="38.30" y1="562.00" x2="41.60" y2="562.00" stroke="#111" stroke-width="1.3" stroke-linecap="butt"/>
<text x="35.60" y="564.94" font-size="8.2" text-anchor="end" textLength="4.05" lengthAdjust="spacingAndGlyphs" class="tk">0</text>
<line x1="38.30" y1="533.17" x2="41.60" y2="533.17" stroke="#111" stroke-width="1.3" stroke-linecap="butt"/>
<text x="35.60" y="536.10" font-size="8.2" text-anchor="end" textLength="4.05" lengthAdjust="spacingAndGlyphs" class="tk">5</text>
<line x1="38.30" y1="504.33" x2="41.60" y2="504.33" stroke="#111" stroke-width="1.3" stroke-linecap="butt"/>
<text x="35.60" y="507.27" font-size="8.2" text-anchor="end" textLength="8.10" lengthAdjust="spacingAndGlyphs" class="tk">10</text>
<line x1="38.30" y1="475.50" x2="41.60" y2="475.50" stroke="#111" stroke-width="1.3" stroke-linecap="butt"/>
<text x="35.60" y="478.44" font-size="8.2" text-anchor="end" textLength="8.10" lengthAdjust="spacingAndGlyphs" class="tk">15</text>
<line x1="58.80" y1="562.00" x2="58.80" y2="564.70" stroke="#111" stroke-width="1.3" stroke-linecap="butt"/>
<line x1="93.60" y1="562.00" x2="93.60" y2="564.70" stroke="#111" stroke-width="1.3" stroke-linecap="butt"/>
<text x="58.80" y="575.40" font-size="8.2" text-anchor="middle" textLength="12.80" lengthAdjust="spacingAndGlyphs" >WT</text>
<text x="70.60" y="575.40" font-size="8.2" textLength="47.0" lengthAdjust="spacingAndGlyphs" class="xl"><tspan font-style="italic">Asxl1</tspan><tspan font-size="6.0" font-style="italic" font-weight="bold" dy="-3.9">Y588X</tspan><tspan dy="3.9">Tg</tspan></text>
<text class="yl" x="0" y="0" font-size="9.4" text-anchor="middle" textLength="45.50" lengthAdjust="spacingAndGlyphs" transform="translate(21.40 512.40) rotate(-90)">RBC (M/μL)</text>
<circle cx="110.10" cy="519.60" r="1.15" fill="#231f20"/>
<circle cx="114.20" cy="519.60" r="1.15" fill="#231f20"/>
<circle cx="169.70" cy="554.00" r="1.65" fill="#7eab52" stroke="#55783a" stroke-width="0.45"/>
<circle cx="175.80" cy="554.00" r="1.65" fill="#7eab52" stroke="#55783a" stroke-width="0.45"/>
<circle cx="164.80" cy="557.50" r="1.65" fill="#7eab52" stroke="#55783a" stroke-width="0.45"/>
<circle cx="167.50" cy="557.80" r="1.65" fill="#7eab52" stroke="#55783a" stroke-width="0.45"/>
<circle cx="170.30" cy="558.00" r="1.65" fill="#7eab52" stroke="#55783a" stroke-width="0.45"/>
<circle cx="173.00" cy="558.40" r="1.65" fill="#7eab52" stroke="#55783a" stroke-width="0.45"/>
<circle cx="175.80" cy="558.00" r="1.65" fill="#7eab52" stroke="#55783a" stroke-width="0.45"/>
<circle cx="178.50" cy="557.80" r="1.65" fill="#7eab52" stroke="#55783a" stroke-width="0.45"/>
<circle cx="180.80" cy="557.50" r="1.65" fill="#7eab52" stroke="#55783a" stroke-width="0.45"/>
<circle cx="172.60" cy="560.20" r="1.65" fill="#7eab52" stroke="#55783a" stroke-width="0.45"/>
<path d="M207.20 483.75 L209.10 487.17 L205.30 487.17 Z" fill="#243e68" stroke="#102440" stroke-width="0.5" stroke-linejoin="round"/>
<rect x="205.55" y="543.75" width="3.30" height="3.30" fill="#2b4882" stroke="#14264a" stroke-width="0.5"/>
<rect x="202.55" y="547.05" width="3.30" height="3.30" fill="#2b4882" stroke="#14264a" stroke-width="0.5"/>
<rect x="206.75" y="547.95" width="3.30" height="3.30" fill="#2b4882" stroke="#14264a" stroke-width="0.5"/>
<path d="M198.60 554.45 L200.50 557.87 L196.70 557.87 Z" fill="#a81234" stroke="#500818" stroke-width="0.5" stroke-linejoin="round"/>
<rect x="200.15" y="555.65" width="3.30" height="3.30" fill="#c0123a" stroke="#600818" stroke-width="0.5"/>
<rect x="203.15" y="556.35" width="3.30" height="3.30" fill="#c0123a" stroke="#600818" stroke-width="0.5"/>
<rect x="205.95" y="557.55" width="3.30" height="3.30" fill="#c0123a" stroke="#600818" stroke-width="0.5"/>
<rect x="209.35" y="555.75" width="3.30" height="3.30" fill="#c0123a" stroke="#600818" stroke-width="0.5"/>
<path d="M214.60 554.95 L216.50 558.37 L212.70 558.37 Z" fill="#a81234" stroke="#500818" stroke-width="0.5" stroke-linejoin="round"/>
<rect x="214.85" y="556.55" width="3.30" height="3.30" fill="#c0123a" stroke="#600818" stroke-width="0.5"/>
<line x1="161.40" y1="558.10" x2="184.50" y2="558.10" stroke="#111" stroke-width="1.7" stroke-linecap="butt"/>
<line x1="173.00" y1="556.80" x2="173.00" y2="559.30" stroke="#111" stroke-width="1.2" stroke-linecap="butt"/>
<line x1="167.20" y1="556.80" x2="178.00" y2="556.80" stroke="#111" stroke-width="1.35" stroke-linecap="butt"/>
<line x1="167.20" y1="559.30" x2="178.00" y2="559.30" stroke="#111" stroke-width="1.35" stroke-linecap="butt"/>
<line x1="196.20" y1="548.70" x2="218.90" y2="548.70" stroke="#111" stroke-width="1.7" stroke-linecap="butt"/>
<line x1="207.80" y1="542.30" x2="207.80" y2="555.10" stroke="#111" stroke-width="1.2" stroke-linecap="butt"/>
<line x1="201.70" y1="542.30" x2="213.40" y2="542.30" stroke="#111" stroke-width="1.35" stroke-linecap="butt"/>
<line x1="201.70" y1="555.10" x2="213.40" y2="555.10" stroke="#111" stroke-width="1.35" stroke-linecap="butt"/>
<line x1="155.80" y1="472.50" x2="155.80" y2="562.75" stroke="#111" stroke-width="1.5" stroke-linecap="butt"/>
<line x1="155.05" y1="562.00" x2="224.80" y2="562.00" stroke="#111" stroke-width="1.5" stroke-linecap="butt"/>
<line x1="152.50" y1="562.00" x2="155.80" y2="562.00" stroke="#111" stroke-width="1.3" stroke-linecap="butt"/>
<text x="149.80" y="564.94" font-size="8.2" text-anchor="end" textLength="4.05" lengthAdjust="spacingAndGlyphs" class="tk">0</text>
<line x1="152.50" y1="544.70" x2="155.80" y2="544.70" stroke="#111" stroke-width="1.3" stroke-linecap="butt"/>
<text x="149.80" y="547.64" font-size="8.2" text-anchor="end" textLength="8.10" lengthAdjust="spacingAndGlyphs" class="tk">10</text>
<line x1="152.50" y1="527.40" x2="155.80" y2="527.40" stroke="#111" stroke-width="1.3" stroke-linecap="butt"/>
<text x="149.80" y="530.34" font-size="8.2" text-anchor="end" textLength="8.10" lengthAdjust="spacingAndGlyphs" class="tk">20</text>
<line x1="152.50" y1="510.10" x2="155.80" y2="510.10" stroke="#111" stroke-width="1.3" stroke-linecap="butt"/>
<text x="149.80" y="513.04" font-size="8.2" text-anchor="end" textLength="8.10" lengthAdjust="spacingAndGlyphs" class="tk">30</text>
<line x1="152.50" y1="492.80" x2="155.80" y2="492.80" stroke="#111" stroke-width="1.3" stroke-linecap="butt"/>
<text x="149.80" y="495.74" font-size="8.2" text-anchor="end" textLength="8.10" lengthAdjust="spacingAndGlyphs" class="tk">40</text>
<line x1="152.50" y1="475.50" x2="155.80" y2="475.50" stroke="#111" stroke-width="1.3" stroke-linecap="butt"/>
<text x="149.80" y="478.44" font-size="8.2" text-anchor="end" textLength="8.10" lengthAdjust="spacingAndGlyphs" class="tk">50</text>
<line x1="173.00" y1="562.00" x2="173.00" y2="564.70" stroke="#111" stroke-width="1.3" stroke-linecap="butt"/>
<line x1="207.80" y1="562.00" x2="207.80" y2="564.70" stroke="#111" stroke-width="1.3" stroke-linecap="butt"/>
<text x="173.00" y="575.40" font-size="8.2" text-anchor="middle" textLength="12.80" lengthAdjust="spacingAndGlyphs" >WT</text>
<text x="184.80" y="575.40" font-size="8.2" textLength="47.0" lengthAdjust="spacingAndGlyphs" class="xl"><tspan font-style="italic">Asxl1</tspan><tspan font-size="6.0" font-style="italic" font-weight="bold" dy="-3.9">Y588X</tspan><tspan dy="3.9">Tg</tspan></text>
<text class="yl" x="0" y="0" font-size="9.4" text-anchor="middle" textLength="37.70" lengthAdjust="spacingAndGlyphs" transform="translate(134.90 517.70) rotate(-90)">NE (K/μL)</text>
<circle cx="286.80" cy="533.90" r="1.65" fill="#7eab52" stroke="#55783a" stroke-width="0.45"/>
<circle cx="278.80" cy="547.70" r="1.65" fill="#7eab52" stroke="#55783a" stroke-width="0.45"/>
<circle cx="295.40" cy="548.90" r="1.65" fill="#7eab52" stroke="#55783a" stroke-width="0.45"/>
<circle cx="281.50" cy="550.80" r="1.65" fill="#7eab52" stroke="#55783a" stroke-width="0.45"/>
<circle cx="284.50" cy="550.80" r="1.65" fill="#7eab52" stroke="#55783a" stroke-width="0.45"/>
<circle cx="288.00" cy="550.60" r="1.65" fill="#7eab52" stroke="#55783a" stroke-width="0.45"/>
<circle cx="291.50" cy="550.80" r="1.65" fill="#7eab52" stroke="#55783a" stroke-width="0.45"/>
<circle cx="277.50" cy="554.50" r="1.65" fill="#7eab52" stroke="#55783a" stroke-width="0.45"/>
<circle cx="282.50" cy="556.80" r="1.65" fill="#7eab52" stroke="#55783a" stroke-width="0.45"/>
<circle cx="291.00" cy="557.20" r="1.65" fill="#7eab52" stroke="#55783a" stroke-width="0.45"/>
<circle cx="295.40" cy="556.50" r="1.65" fill="#7eab52" stroke="#55783a" stroke-width="0.45"/>
<circle cx="286.80" cy="559.40" r="1.65" fill="#7eab52" stroke="#55783a" stroke-width="0.45"/>
<circle cx="286.00" cy="553.50" r="1.65" fill="#7eab52" stroke="#55783a" stroke-width="0.45"/>
<path d="M321.20 483.85 L323.10 487.27 L319.30 487.27 Z" fill="#243e68" stroke="#102440" stroke-width="0.5" stroke-linejoin="round"/>
<path d="M321.20 507.25 L323.10 510.67 L319.30 510.67 Z" fill="#243e68" stroke="#102440" stroke-width="0.5" stroke-linejoin="round"/>
<rect x="316.55" y="529.75" width="3.30" height="3.30" fill="#2b4882" stroke="#14264a" stroke-width="0.5"/>
<path d="M324.30 534.85 L326.20 538.27 L322.40 538.27 Z" fill="#243e68" stroke="#102440" stroke-width="0.5" stroke-linejoin="round"/>
<rect x="314.05" y="545.45" width="3.30" height="3.30" fill="#2b4882" stroke="#14264a" stroke-width="0.5"/>
<path d="M321.20 545.85 L323.10 549.27 L319.30 549.27 Z" fill="#243e68" stroke="#102440" stroke-width="0.5" stroke-linejoin="round"/>
<rect x="325.15" y="545.75" width="3.30" height="3.30" fill="#c0123a" stroke="#600818" stroke-width="0.5"/>
<path d="M321.20 551.75 L323.10 555.17 L319.30 555.17 Z" fill="#a81234" stroke="#500818" stroke-width="0.5" stroke-linejoin="round"/>
<path d="M315.70 555.45 L317.60 558.87 L313.80 558.87 Z" fill="#a81234" stroke="#500818" stroke-width="0.5" stroke-linejoin="round"/>
<rect x="319.55" y="557.15" width="3.30" height="3.30" fill="#c0123a" stroke="#600818" stroke-width="0.5"/>
<rect x="325.15" y="556.15" width="3.30" height="3.30" fill="#c0123a" stroke="#600818" stroke-width="0.5"/>
<line x1="275.40" y1="552.00" x2="298.50" y2="552.00" stroke="#111" stroke-width="1.7" stroke-linecap="butt"/>
<line x1="286.70" y1="550.20" x2="286.70" y2="553.80" stroke="#111" stroke-width="1.2" stroke-linecap="butt"/>
<line x1="281.00" y1="550.20" x2="292.00" y2="550.20" stroke="#111" stroke-width="1.35" stroke-linecap="butt"/>
<line x1="281.00" y1="553.80" x2="292.00" y2="553.80" stroke="#111" stroke-width="1.35" stroke-linecap="butt"/>
<line x1="309.90" y1="539.70" x2="332.90" y2="539.70" stroke="#111" stroke-width="1.7" stroke-linecap="butt"/>
<line x1="321.50" y1="532.30" x2="321.50" y2="547.00" stroke="#111" stroke-width="1.2" stroke-linecap="butt"/>
<line x1="315.10" y1="532.30" x2="327.40" y2="532.30" stroke="#111" stroke-width="1.35" stroke-linecap="butt"/>
<line x1="315.10" y1="547.00" x2="327.40" y2="547.00" stroke="#111" stroke-width="1.35" stroke-linecap="butt"/>
<line x1="269.50" y1="472.50" x2="269.50" y2="562.75" stroke="#111" stroke-width="1.5" stroke-linecap="butt"/>
<line x1="268.75" y1="562.00" x2="338.50" y2="562.00" stroke="#111" stroke-width="1.5" stroke-linecap="butt"/>
<line x1="266.20" y1="562.00" x2="269.50" y2="562.00" stroke="#111" stroke-width="1.3" stroke-linecap="butt"/>
<text x="263.50" y="564.94" font-size="8.2" text-anchor="end" textLength="4.05" lengthAdjust="spacingAndGlyphs" class="tk">0</text>
<line x1="266.20" y1="540.38" x2="269.50" y2="540.38" stroke="#111" stroke-width="1.3" stroke-linecap="butt"/>
<text x="263.50" y="543.31" font-size="8.2" text-anchor="end" textLength="4.05" lengthAdjust="spacingAndGlyphs" class="tk">1</text>
<line x1="266.20" y1="518.75" x2="269.50" y2="518.75" stroke="#111" stroke-width="1.3" stroke-linecap="butt"/>
<text x="263.50" y="521.69" font-size="8.2" text-anchor="end" textLength="4.05" lengthAdjust="spacingAndGlyphs" class="tk">2</text>
<line x1="266.20" y1="497.12" x2="269.50" y2="497.12" stroke="#111" stroke-width="1.3" stroke-linecap="butt"/>
<text x="263.50" y="500.06" font-size="8.2" text-anchor="end" textLength="4.05" lengthAdjust="spacingAndGlyphs" class="tk">3</text>
<line x1="266.20" y1="475.50" x2="269.50" y2="475.50" stroke="#111" stroke-width="1.3" stroke-linecap="butt"/>
<text x="263.50" y="478.44" font-size="8.2" text-anchor="end" textLength="4.05" lengthAdjust="spacingAndGlyphs" class="tk">4</text>
<line x1="286.70" y1="562.00" x2="286.70" y2="564.70" stroke="#111" stroke-width="1.3" stroke-linecap="butt"/>
<line x1="321.50" y1="562.00" x2="321.50" y2="564.70" stroke="#111" stroke-width="1.3" stroke-linecap="butt"/>
<text x="286.70" y="575.40" font-size="8.2" text-anchor="middle" textLength="12.80" lengthAdjust="spacingAndGlyphs" >WT</text>
<text x="298.50" y="575.40" font-size="8.2" textLength="47.0" lengthAdjust="spacingAndGlyphs" class="xl"><tspan font-style="italic">Asxl1</tspan><tspan font-size="6.0" font-style="italic" font-weight="bold" dy="-3.9">Y588X</tspan><tspan dy="3.9">Tg</tspan></text>
<text class="yl" x="0" y="0" font-size="9.4" text-anchor="middle" textLength="40.10" lengthAdjust="spacingAndGlyphs" transform="translate(251.90 513.20) rotate(-90)">MO (K/μL)</text>
<circle cx="402.00" cy="533.70" r="1.65" fill="#7eab52" stroke="#55783a" stroke-width="0.45"/>
<circle cx="407.70" cy="536.20" r="1.65" fill="#7eab52" stroke="#55783a" stroke-width="0.45"/>
<circle cx="399.10" cy="541.30" r="1.65" fill="#7eab52" stroke="#55783a" stroke-width="0.45"/>
<circle cx="402.50" cy="544.20" r="1.65" fill="#7eab52" stroke="#55783a" stroke-width="0.45"/>
<circle cx="406.20" cy="544.70" r="1.65" fill="#7eab52" stroke="#55783a" stroke-width="0.45"/>
<circle cx="410.00" cy="544.70" r="1.65" fill="#7eab52" stroke="#55783a" stroke-width="0.45"/>
<circle cx="404.80" cy="546.90" r="1.65" fill="#7eab52" stroke="#55783a" stroke-width="0.45"/>
<circle cx="410.00" cy="547.60" r="1.65" fill="#7eab52" stroke="#55783a" stroke-width="0.45"/>
<circle cx="399.50" cy="549.50" r="1.65" fill="#7eab52" stroke="#55783a" stroke-width="0.45"/>
<circle cx="407.70" cy="549.50" r="1.65" fill="#7eab52" stroke="#55783a" stroke-width="0.45"/>
<circle cx="404.90" cy="551.40" r="1.65" fill="#7eab52" stroke="#55783a" stroke-width="0.45"/>
<circle cx="407.70" cy="554.80" r="1.65" fill="#7eab52" stroke="#55783a" stroke-width="0.45"/>
<circle cx="402.00" cy="557.70" r="1.65" fill="#7eab52" stroke="#55783a" stroke-width="0.45"/>
<path d="M439.20 481.55 L441.10 484.97 L437.30 484.97 Z" fill="#243e68" stroke="#102440" stroke-width="0.5" stroke-linejoin="round"/>
<path d="M439.20 501.75 L441.10 505.17 L437.30 505.17 Z" fill="#243e68" stroke="#102440" stroke-width="0.5" stroke-linejoin="round"/>
<rect x="437.55" y="519.45" width="3.30" height="3.30" fill="#2b4882" stroke="#14264a" stroke-width="0.5"/>
<rect x="437.55" y="534.55" width="3.30" height="3.30" fill="#2b4882" stroke="#14264a" stroke-width="0.5"/>
<path d="M444.50 546.15 L446.40 549.57 L442.60 549.57 Z" fill="#243e68" stroke="#102440" stroke-width="0.5" stroke-linejoin="round"/>
<path d="M434.20 549.95 L436.10 553.37 L432.30 553.37 Z" fill="#a81234" stroke="#500818" stroke-width="0.5" stroke-linejoin="round"/>
<path d="M439.20 551.25 L441.10 554.67 L437.30 554.67 Z" fill="#243e68" stroke="#102440" stroke-width="0.5" stroke-linejoin="round"/>
<path d="M431.00 553.75 L432.90 557.17 L429.10 557.17 Z" fill="#243e68" stroke="#102440" stroke-width="0.5" stroke-linejoin="round"/>
<rect x="435.05" y="556.65" width="3.30" height="3.30" fill="#c0123a" stroke="#600818" stroke-width="0.5"/>
<rect x="440.15" y="556.45" width="3.30" height="3.30" fill="#c0123a" stroke="#600818" stroke-width="0.5"/>
<rect x="445.75" y="552.85" width="3.30" height="3.30" fill="#c0123a" stroke="#600818" stroke-width="0.5"/>
<line x1="393.50" y1="546.70" x2="416.80" y2="546.70" stroke="#111" stroke-width="1.7" stroke-linecap="butt"/>
<line x1="404.90" y1="545.20" x2="404.90" y2="548.40" stroke="#111" stroke-width="1.2" stroke-linecap="butt"/>
<line x1="399.00" y1="545.20" x2="410.00" y2="545.20" stroke="#111" stroke-width="1.35" stroke-linecap="butt"/>
<line x1="399.00" y1="548.40" x2="410.00" y2="548.40" stroke="#111" stroke-width="1.35" stroke-linecap="butt"/>
<line x1="428.10" y1="538.80" x2="451.20" y2="538.80" stroke="#111" stroke-width="1.7" stroke-linecap="butt"/>
<line x1="439.70" y1="530.80" x2="439.70" y2="546.30" stroke="#111" stroke-width="1.2" stroke-linecap="butt"/>
<line x1="433.60" y1="530.80" x2="445.60" y2="530.80" stroke="#111" stroke-width="1.35" stroke-linecap="butt"/>
<line x1="433.60" y1="546.30" x2="445.60" y2="546.30" stroke="#111" stroke-width="1.35" stroke-linecap="butt"/>
<line x1="387.70" y1="472.50" x2="387.70" y2="562.75" stroke="#111" stroke-width="1.5" stroke-linecap="butt"/>
<line x1="386.95" y1="562.00" x2="456.70" y2="562.00" stroke="#111" stroke-width="1.5" stroke-linecap="butt"/>
<line x1="384.40" y1="562.00" x2="387.70" y2="562.00" stroke="#111" stroke-width="1.3" stroke-linecap="butt"/>
<text x="381.70" y="564.94" font-size="8.2" text-anchor="end" textLength="4.05" lengthAdjust="spacingAndGlyphs" class="tk">0</text>
<line x1="384.40" y1="533.17" x2="387.70" y2="533.17" stroke="#111" stroke-width="1.3" stroke-linecap="butt"/>
<text x="381.70" y="536.10" font-size="8.2" text-anchor="end" textLength="8.10" lengthAdjust="spacingAndGlyphs" class="tk">10</text>
<line x1="384.40" y1="504.33" x2="387.70" y2="504.33" stroke="#111" stroke-width="1.3" stroke-linecap="butt"/>
<text x="381.70" y="507.27" font-size="8.2" text-anchor="end" textLength="8.10" lengthAdjust="spacingAndGlyphs" class="tk">20</text>
<line x1="384.40" y1="475.50" x2="387.70" y2="475.50" stroke="#111" stroke-width="1.3" stroke-linecap="butt"/>
<text x="381.70" y="478.44" font-size="8.2" text-anchor="end" textLength="8.10" lengthAdjust="spacingAndGlyphs" class="tk">30</text>
<line x1="404.90" y1="562.00" x2="404.90" y2="564.70" stroke="#111" stroke-width="1.3" stroke-linecap="butt"/>
<line x1="439.70" y1="562.00" x2="439.70" y2="564.70" stroke="#111" stroke-width="1.3" stroke-linecap="butt"/>
<text x="404.90" y="575.40" font-size="8.2" text-anchor="middle" textLength="12.80" lengthAdjust="spacingAndGlyphs" >WT</text>
<text x="416.70" y="575.40" font-size="8.2" textLength="47.0" lengthAdjust="spacingAndGlyphs" class="xl"><tspan font-style="italic">Asxl1</tspan><tspan font-size="6.0" font-style="italic" font-weight="bold" dy="-3.9">Y588X</tspan><tspan dy="3.9">Tg</tspan></text>
<text class="yl" x="0" y="0" font-size="9.4" text-anchor="middle" textLength="35.30" lengthAdjust="spacingAndGlyphs" transform="translate(366.40 517.00) rotate(-90)">LY (K/μL)</text>
<circle cx="58.90" cy="623.30" r="1.65" fill="#7eab52" stroke="#55783a" stroke-width="0.45"/>
<circle cx="49.00" cy="629.20" r="1.65" fill="#7eab52" stroke="#55783a" stroke-width="0.45"/>
<circle cx="52.50" cy="629.20" r="1.65" fill="#7eab52" stroke="#55783a" stroke-width="0.45"/>
<circle cx="63.90" cy="629.20" r="1.65" fill="#7eab52" stroke="#55783a" stroke-width="0.45"/>
<circle cx="68.90" cy="629.20" r="1.65" fill="#7eab52" stroke="#55783a" stroke-width="0.45"/>
<circle cx="55.40" cy="632.60" r="1.65" fill="#7eab52" stroke="#55783a" stroke-width="0.45"/>
<circle cx="58.90" cy="631.80" r="1.65" fill="#7eab52" stroke="#55783a" stroke-width="0.45"/>
<circle cx="62.50" cy="632.60" r="1.65" fill="#7eab52" stroke="#55783a" stroke-width="0.45"/>
<circle cx="53.70" cy="637.80" r="1.65" fill="#7eab52" stroke="#55783a" stroke-width="0.45"/>
<circle cx="64.20" cy="637.80" r="1.65" fill="#7eab52" stroke="#55783a" stroke-width="0.45"/>
<circle cx="58.90" cy="642.00" r="1.65" fill="#7eab52" stroke="#55783a" stroke-width="0.45"/>
<rect x="91.45" y="621.65" width="3.30" height="3.30" fill="#c0123a" stroke="#600818" stroke-width="0.5"/>
<path d="M93.10 630.35 L95.00 633.77 L91.20 633.77 Z" fill="#243e68" stroke="#102440" stroke-width="0.5" stroke-linejoin="round"/>
<rect x="91.45" y="636.15" width="3.30" height="3.30" fill="#2b4882" stroke="#14264a" stroke-width="0.5"/>
<path d="M96.30 638.55 L98.20 641.97 L94.40 641.97 Z" fill="#243e68" stroke="#102440" stroke-width="0.5" stroke-linejoin="round"/>
<path d="M90.90 642.15 L92.80 645.57 L89.00 645.57 Z" fill="#a81234" stroke="#500818" stroke-width="0.5" stroke-linejoin="round"/>
<rect x="97.15" y="647.25" width="3.30" height="3.30" fill="#2b4882" stroke="#14264a" stroke-width="0.5"/>
<rect x="86.75" y="650.35" width="3.30" height="3.30" fill="#c0123a" stroke="#600818" stroke-width="0.5"/>
<rect x="86.75" y="652.65" width="3.30" height="3.30" fill="#c0123a" stroke="#600818" stroke-width="0.5"/>
<rect x="91.45" y="650.65" width="3.30" height="3.30" fill="#2b4882" stroke="#14264a" stroke-width="0.5"/>
<rect x="91.45" y="655.75" width="3.30" height="3.30" fill="#c0123a" stroke="#600818" stroke-width="0.5"/>
<path d="M98.80 654.95 L100.70 658.37 L96.90 658.37 Z" fill="#243e68" stroke="#102440" stroke-width="0.5" stroke-linejoin="round"/>
<line x1="47.60" y1="632.10" x2="70.70" y2="632.10" stroke="#111" stroke-width="1.7" stroke-linecap="butt"/>
<line x1="58.80" y1="630.60" x2="58.80" y2="633.60" stroke="#111" stroke-width="1.2" stroke-linecap="butt"/>
<line x1="53.50" y1="630.60" x2="64.50" y2="630.60" stroke="#111" stroke-width="1.35" stroke-linecap="butt"/>
<line x1="53.50" y1="633.60" x2="64.50" y2="633.60" stroke="#111" stroke-width="1.35" stroke-linecap="butt"/>
<line x1="82.10" y1="645.20" x2="104.90" y2="645.20" stroke="#111" stroke-width="1.7" stroke-linecap="butt"/>
<line x1="93.60" y1="641.70" x2="93.60" y2="648.40" stroke="#111" stroke-width="1.2" stroke-linecap="butt"/>
<line x1="87.40" y1="641.70" x2="99.50" y2="641.70" stroke="#111" stroke-width="1.35" stroke-linecap="butt"/>
<line x1="87.40" y1="648.40" x2="99.50" y2="648.40" stroke="#111" stroke-width="1.35" stroke-linecap="butt"/>
<line x1="41.60" y1="600.90" x2="41.60" y2="691.15" stroke="#111" stroke-width="1.5" stroke-linecap="butt"/>
<line x1="40.85" y1="690.40" x2="110.60" y2="690.40" stroke="#111" stroke-width="1.5" stroke-linecap="butt"/>
<line x1="38.30" y1="690.40" x2="41.60" y2="690.40" stroke="#111" stroke-width="1.3" stroke-linecap="butt"/>
<text x="35.60" y="693.34" font-size="8.2" text-anchor="end" textLength="4.05" lengthAdjust="spacingAndGlyphs" class="tk">0</text>
<line x1="38.30" y1="668.77" x2="41.60" y2="668.77" stroke="#111" stroke-width="1.3" stroke-linecap="butt"/>
<text x="35.60" y="671.71" font-size="8.2" text-anchor="end" textLength="4.05" lengthAdjust="spacingAndGlyphs" class="tk">5</text>
<line x1="38.30" y1="647.15" x2="41.60" y2="647.15" stroke="#111" stroke-width="1.3" stroke-linecap="butt"/>
<text x="35.60" y="650.09" font-size="8.2" text-anchor="end" textLength="8.10" lengthAdjust="spacingAndGlyphs" class="tk">10</text>
<line x1="38.30" y1="625.52" x2="41.60" y2="625.52" stroke="#111" stroke-width="1.3" stroke-linecap="butt"/>
<text x="35.60" y="628.46" font-size="8.2" text-anchor="end" textLength="8.10" lengthAdjust="spacingAndGlyphs" class="tk">15</text>
<line x1="38.30" y1="603.90" x2="41.60" y2="603.90" stroke="#111" stroke-width="1.3" stroke-linecap="butt"/>
<text x="35.60" y="606.84" font-size="8.2" text-anchor="end" textLength="8.10" lengthAdjust="spacingAndGlyphs" class="tk">20</text>
<line x1="58.80" y1="690.40" x2="58.80" y2="693.10" stroke="#111" stroke-width="1.3" stroke-linecap="butt"/>
<line x1="93.60" y1="690.40" x2="93.60" y2="693.10" stroke="#111" stroke-width="1.3" stroke-linecap="butt"/>
<text x="58.80" y="703.80" font-size="8.2" text-anchor="middle" textLength="12.80" lengthAdjust="spacingAndGlyphs" >WT</text>
<text x="70.60" y="703.80" font-size="8.2" textLength="47.0" lengthAdjust="spacingAndGlyphs" class="xl"><tspan font-style="italic">Asxl1</tspan><tspan font-size="6.0" font-style="italic" font-weight="bold" dy="-3.9">Y588X</tspan><tspan dy="3.9">Tg</tspan></text>
<text class="yl" x="0" y="0" font-size="9.4" text-anchor="middle" textLength="34.80" lengthAdjust="spacingAndGlyphs" transform="translate(20.90 646.40) rotate(-90)">Hb (g/dL)</text>
<circle cx="109.70" cy="644.90" r="1.15" fill="#231f20"/>
<circle cx="113.70" cy="644.90" r="1.15" fill="#231f20"/>
<circle cx="175.30" cy="669.80" r="1.65" fill="#7eab52" stroke="#55783a" stroke-width="0.45"/>
<circle cx="170.50" cy="674.80" r="1.65" fill="#7eab52" stroke="#55783a" stroke-width="0.45"/>
<circle cx="181.80" cy="678.60" r="1.65" fill="#7eab52" stroke="#55783a" stroke-width="0.45"/>
<circle cx="163.50" cy="680.00" r="1.65" fill="#7eab52" stroke="#55783a" stroke-width="0.45"/>
<circle cx="166.50" cy="680.20" r="1.65" fill="#7eab52" stroke="#55783a" stroke-width="0.45"/>
<circle cx="169.50" cy="680.00" r="1.65" fill="#7eab52" stroke="#55783a" stroke-width="0.45"/>
<circle cx="172.50" cy="680.40" r="1.65" fill="#7eab52" stroke="#55783a" stroke-width="0.45"/>
<circle cx="175.50" cy="680.00" r="1.65" fill="#7eab52" stroke="#55783a" stroke-width="0.45"/>
<circle cx="178.50" cy="680.20" r="1.65" fill="#7eab52" stroke="#55783a" stroke-width="0.45"/>
<circle cx="183.00" cy="680.00" r="1.65" fill="#7eab52" stroke="#55783a" stroke-width="0.45"/>
<circle cx="167.70" cy="684.10" r="1.65" fill="#7eab52" stroke="#55783a" stroke-width="0.45"/>
<circle cx="173.20" cy="683.40" r="1.65" fill="#7eab52" stroke="#55783a" stroke-width="0.45"/>
<circle cx="178.10" cy="685.90" r="1.65" fill="#7eab52" stroke="#55783a" stroke-width="0.45"/>
<circle cx="173.00" cy="688.70" r="1.65" fill="#7eab52" stroke="#55783a" stroke-width="0.45"/>
<rect x="206.25" y="618.75" width="3.30" height="3.30" fill="#2b4882" stroke="#14264a" stroke-width="0.5"/>
<path d="M207.90 644.65 L209.80 648.07 L206.00 648.07 Z" fill="#243e68" stroke="#102440" stroke-width="0.5" stroke-linejoin="round"/>
<path d="M198.40 667.75 L200.30 671.17 L196.50 671.17 Z" fill="#243e68" stroke="#102440" stroke-width="0.5" stroke-linejoin="round"/>
<path d="M216.90 668.65 L218.80 672.07 L215.00 672.07 Z" fill="#243e68" stroke="#102440" stroke-width="0.5" stroke-linejoin="round"/>
<path d="M202.60 669.95 L204.50 673.37 L200.70 673.37 Z" fill="#a81234" stroke="#500818" stroke-width="0.5" stroke-linejoin="round"/>
<rect x="210.65" y="671.75" width="3.30" height="3.30" fill="#2b4882" stroke="#14264a" stroke-width="0.5"/>
<path d="M207.60 672.75 L209.50 676.17 L205.70 676.17 Z" fill="#a81234" stroke="#500818" stroke-width="0.5" stroke-linejoin="round"/>
<rect x="206.25" y="678.75" width="3.30" height="3.30" fill="#c0123a" stroke="#600818" stroke-width="0.5"/>
<rect x="208.95" y="683.85" width="3.30" height="3.30" fill="#c0123a" stroke="#600818" stroke-width="0.5"/>
<rect x="203.45" y="686.65" width="3.30" height="3.30" fill="#c0123a" stroke="#600818" stroke-width="0.5"/>
<line x1="161.50" y1="680.90" x2="185.00" y2="680.90" stroke="#111" stroke-width="1.7" stroke-linecap="butt"/>
<line x1="173.00" y1="679.60" x2="173.00" y2="682.20" stroke="#111" stroke-width="1.2" stroke-linecap="butt"/>
<line x1="167.20" y1="679.60" x2="178.00" y2="679.60" stroke="#111" stroke-width="1.35" stroke-linecap="butt"/>
<line x1="167.20" y1="682.20" x2="178.00" y2="682.20" stroke="#111" stroke-width="1.35" stroke-linecap="butt"/>
<line x1="196.50" y1="667.10" x2="219.60" y2="667.10" stroke="#111" stroke-width="1.7" stroke-linecap="butt"/>
<line x1="207.80" y1="661.90" x2="207.80" y2="673.40" stroke="#111" stroke-width="1.2" stroke-linecap="butt"/>
<line x1="202.00" y1="661.90" x2="213.70" y2="661.90" stroke="#111" stroke-width="1.35" stroke-linecap="butt"/>
<line x1="202.00" y1="673.40" x2="213.70" y2="673.40" stroke="#111" stroke-width="1.35" stroke-linecap="butt"/>
<line x1="155.80" y1="600.90" x2="155.80" y2="691.15" stroke="#111" stroke-width="1.5" stroke-linecap="butt"/>
<line x1="155.05" y1="690.40" x2="224.80" y2="690.40" stroke="#111" stroke-width="1.5" stroke-linecap="butt"/>
<line x1="152.50" y1="690.40" x2="155.80" y2="690.40" stroke="#111" stroke-width="1.3" stroke-linecap="butt"/>
<text x="149.80" y="693.34" font-size="8.2" text-anchor="end" textLength="4.05" lengthAdjust="spacingAndGlyphs" class="tk">0</text>
<line x1="152.50" y1="668.77" x2="155.80" y2="668.77" stroke="#111" stroke-width="1.3" stroke-linecap="butt"/>
<text x="149.80" y="671.71" font-size="8.2" text-anchor="end" textLength="8.10" lengthAdjust="spacingAndGlyphs" class="tk">20</text>
<line x1="152.50" y1="647.15" x2="155.80" y2="647.15" stroke="#111" stroke-width="1.3" stroke-linecap="butt"/>
<text x="149.80" y="650.09" font-size="8.2" text-anchor="end" textLength="8.10" lengthAdjust="spacingAndGlyphs" class="tk">40</text>
<line x1="152.50" y1="625.52" x2="155.80" y2="625.52" stroke="#111" stroke-width="1.3" stroke-linecap="butt"/>
<text x="149.80" y="628.46" font-size="8.2" text-anchor="end" textLength="8.10" lengthAdjust="spacingAndGlyphs" class="tk">60</text>
<line x1="152.50" y1="603.90" x2="155.80" y2="603.90" stroke="#111" stroke-width="1.3" stroke-linecap="butt"/>
<text x="149.80" y="606.84" font-size="8.2" text-anchor="end" textLength="8.10" lengthAdjust="spacingAndGlyphs" class="tk">80</text>
<line x1="173.00" y1="690.40" x2="173.00" y2="693.10" stroke="#111" stroke-width="1.3" stroke-linecap="butt"/>
<line x1="207.80" y1="690.40" x2="207.80" y2="693.10" stroke="#111" stroke-width="1.3" stroke-linecap="butt"/>
<text x="173.00" y="703.80" font-size="8.2" text-anchor="middle" textLength="12.80" lengthAdjust="spacingAndGlyphs" >WT</text>
<text x="184.80" y="703.80" font-size="8.2" textLength="47.0" lengthAdjust="spacingAndGlyphs" class="xl"><tspan font-style="italic">Asxl1</tspan><tspan font-size="6.0" font-style="italic" font-weight="bold" dy="-3.9">Y588X</tspan><tspan dy="3.9">Tg</tspan></text>
<text class="yl" x="0" y="0" font-size="9.4" text-anchor="middle" textLength="51.50" lengthAdjust="spacingAndGlyphs" transform="translate(135.40 644.40) rotate(-90)">PLT (10<tspan font-size="6.2" dy="-3.3">5</tspan><tspan dy="3.3">/μL)</tspan></text>
<circle cx="225.60" cy="667.10" r="1.15" fill="#231f20"/>
<circle cx="281.20" cy="652.10" r="1.65" fill="#7eab52" stroke="#55783a" stroke-width="0.45"/>
<circle cx="292.30" cy="650.40" r="1.65" fill="#7eab52" stroke="#55783a" stroke-width="0.45"/>
<circle cx="286.80" cy="655.30" r="1.65" fill="#7eab52" stroke="#55783a" stroke-width="0.45"/>
<circle cx="286.50" cy="660.70" r="1.65" fill="#7eab52" stroke="#55783a" stroke-width="0.45"/>
<circle cx="283.50" cy="665.60" r="1.65" fill="#7eab52" stroke="#55783a" stroke-width="0.45"/>
<circle cx="289.50" cy="666.40" r="1.65" fill="#7eab52" stroke="#55783a" stroke-width="0.45"/>
<circle cx="294.80" cy="671.30" r="1.65" fill="#7eab52" stroke="#55783a" stroke-width="0.45"/>
<circle cx="278.80" cy="673.80" r="1.65" fill="#7eab52" stroke="#55783a" stroke-width="0.45"/>
<circle cx="284.10" cy="676.50" r="1.65" fill="#7eab52" stroke="#55783a" stroke-width="0.45"/>
<circle cx="289.50" cy="674.60" r="1.65" fill="#7eab52" stroke="#55783a" stroke-width="0.45"/>
<rect x="319.55" y="618.85" width="3.30" height="3.30" fill="#2b4882" stroke="#14264a" stroke-width="0.5"/>
<path d="M321.20 647.05 L323.10 650.47 L319.30 650.47 Z" fill="#a81234" stroke="#500818" stroke-width="0.5" stroke-linejoin="round"/>
<rect x="316.85" y="652.45" width="3.30" height="3.30" fill="#c0123a" stroke="#600818" stroke-width="0.5"/>
<rect x="322.65" y="654.85" width="3.30" height="3.30" fill="#2b4882" stroke="#14264a" stroke-width="0.5"/>
<rect x="316.85" y="660.65" width="3.30" height="3.30" fill="#c0123a" stroke="#600818" stroke-width="0.5"/>
<rect x="316.85" y="665.95" width="3.30" height="3.30" fill="#2b4882" stroke="#14264a" stroke-width="0.5"/>
<path d="M323.70 668.55 L325.60 671.97 L321.80 671.97 Z" fill="#243e68" stroke="#102440" stroke-width="0.5" stroke-linejoin="round"/>
<path d="M316.10 675.05 L318.00 678.47 L314.20 678.47 Z" fill="#243e68" stroke="#102440" stroke-width="0.5" stroke-linejoin="round"/>
<path d="M326.80 675.05 L328.70 678.47 L324.90 678.47 Z" fill="#243e68" stroke="#102440" stroke-width="0.5" stroke-linejoin="round"/>
<rect x="319.55" y="678.75" width="3.30" height="3.30" fill="#c0123a" stroke="#600818" stroke-width="0.5"/>
<line x1="275.40" y1="664.80" x2="298.50" y2="664.80" stroke="#111" stroke-width="1.7" stroke-linecap="butt"/>
<line x1="286.70" y1="661.70" x2="286.70" y2="667.60" stroke="#111" stroke-width="1.2" stroke-linecap="butt"/>
<line x1="281.20" y1="661.70" x2="292.90" y2="661.70" stroke="#111" stroke-width="1.35" stroke-linecap="butt"/>
<line x1="281.20" y1="667.60" x2="292.90" y2="667.60" stroke="#111" stroke-width="1.35" stroke-linecap="butt"/>
<line x1="309.90" y1="660.70" x2="332.90" y2="660.70" stroke="#111" stroke-width="1.7" stroke-linecap="butt"/>
<line x1="321.50" y1="656.20" x2="321.50" y2="666.00" stroke="#111" stroke-width="1.2" stroke-linecap="butt"/>
<line x1="315.10" y1="656.20" x2="327.40" y2="656.20" stroke="#111" stroke-width="1.35" stroke-linecap="butt"/>
<line x1="315.10" y1="666.00" x2="327.40" y2="666.00" stroke="#111" stroke-width="1.35" stroke-linecap="butt"/>
<line x1="269.50" y1="600.90" x2="269.50" y2="691.15" stroke="#111" stroke-width="1.5" stroke-linecap="butt"/>
<line x1="268.75" y1="690.40" x2="338.50" y2="690.40" stroke="#111" stroke-width="1.5" stroke-linecap="butt"/>
<line x1="266.20" y1="690.40" x2="269.50" y2="690.40" stroke="#111" stroke-width="1.3" stroke-linecap="butt"/>
<text x="263.50" y="693.34" font-size="8.2" text-anchor="end" textLength="8.10" lengthAdjust="spacingAndGlyphs" class="tk">40</text>
<line x1="266.20" y1="673.10" x2="269.50" y2="673.10" stroke="#111" stroke-width="1.3" stroke-linecap="butt"/>
<text x="263.50" y="676.04" font-size="8.2" text-anchor="end" textLength="8.10" lengthAdjust="spacingAndGlyphs" class="tk">45</text>
<line x1="266.20" y1="655.80" x2="269.50" y2="655.80" stroke="#111" stroke-width="1.3" stroke-linecap="butt"/>
<text x="263.50" y="658.74" font-size="8.2" text-anchor="end" textLength="8.10" lengthAdjust="spacingAndGlyphs" class="tk">50</text>
<line x1="266.20" y1="638.50" x2="269.50" y2="638.50" stroke="#111" stroke-width="1.3" stroke-linecap="butt"/>
<text x="263.50" y="641.44" font-size="8.2" text-anchor="end" textLength="8.10" lengthAdjust="spacingAndGlyphs" class="tk">55</text>
<line x1="266.20" y1="621.20" x2="269.50" y2="621.20" stroke="#111" stroke-width="1.3" stroke-linecap="butt"/>
<text x="263.50" y="624.14" font-size="8.2" text-anchor="end" textLength="8.10" lengthAdjust="spacingAndGlyphs" class="tk">60</text>
<line x1="266.20" y1="603.90" x2="269.50" y2="603.90" stroke="#111" stroke-width="1.3" stroke-linecap="butt"/>
<text x="263.50" y="606.84" font-size="8.2" text-anchor="end" textLength="8.10" lengthAdjust="spacingAndGlyphs" class="tk">65</text>
<line x1="286.70" y1="690.40" x2="286.70" y2="693.10" stroke="#111" stroke-width="1.3" stroke-linecap="butt"/>
<line x1="321.50" y1="690.40" x2="321.50" y2="693.10" stroke="#111" stroke-width="1.3" stroke-linecap="butt"/>
<text x="286.70" y="703.80" font-size="8.2" text-anchor="middle" textLength="12.80" lengthAdjust="spacingAndGlyphs" >WT</text>
<text x="298.50" y="703.80" font-size="8.2" textLength="47.0" lengthAdjust="spacingAndGlyphs" class="xl"><tspan font-style="italic">Asxl1</tspan><tspan font-size="6.0" font-style="italic" font-weight="bold" dy="-3.9">Y588X</tspan><tspan dy="3.9">Tg</tspan></text>
<text class="yl" x="0" y="0" font-size="9.4" text-anchor="middle" textLength="32.30" lengthAdjust="spacingAndGlyphs" transform="translate(248.70 645.60) rotate(-90)">MCV (Fl)</text>
<circle cx="402.40" cy="677.40" r="1.65" fill="#7eab52" stroke="#55783a" stroke-width="0.45"/>
<circle cx="407.50" cy="677.40" r="1.65" fill="#7eab52" stroke="#55783a" stroke-width="0.45"/>
<circle cx="393.60" cy="681.40" r="1.65" fill="#7eab52" stroke="#55783a" stroke-width="0.45"/>
<circle cx="396.20" cy="682.40" r="1.65" fill="#7eab52" stroke="#55783a" stroke-width="0.45"/>
<circle cx="399.00" cy="683.20" r="1.65" fill="#7eab52" stroke="#55783a" stroke-width="0.45"/>
<circle cx="402.00" cy="683.70" r="1.65" fill="#7eab52" stroke="#55783a" stroke-width="0.45"/>
<circle cx="405.00" cy="683.90" r="1.65" fill="#7eab52" stroke="#55783a" stroke-width="0.45"/>
<circle cx="408.00" cy="683.70" r="1.65" fill="#7eab52" stroke="#55783a" stroke-width="0.45"/>
<circle cx="411.00" cy="683.20" r="1.65" fill="#7eab52" stroke="#55783a" stroke-width="0.45"/>
<circle cx="413.80" cy="682.40" r="1.65" fill="#7eab52" stroke="#55783a" stroke-width="0.45"/>
<circle cx="416.20" cy="681.40" r="1.65" fill="#7eab52" stroke="#55783a" stroke-width="0.45"/>
<circle cx="397.50" cy="684.00" r="1.65" fill="#7eab52" stroke="#55783a" stroke-width="0.45"/>
<circle cx="400.50" cy="684.80" r="1.65" fill="#7eab52" stroke="#55783a" stroke-width="0.45"/>
<circle cx="403.50" cy="685.20" r="1.65" fill="#7eab52" stroke="#55783a" stroke-width="0.45"/>
<circle cx="406.50" cy="685.20" r="1.65" fill="#7eab52" stroke="#55783a" stroke-width="0.45"/>
<circle cx="409.50" cy="684.80" r="1.65" fill="#7eab52" stroke="#55783a" stroke-width="0.45"/>
<circle cx="412.50" cy="684.00" r="1.65" fill="#7eab52" stroke="#55783a" stroke-width="0.45"/>
<circle cx="395.00" cy="680.60" r="1.65" fill="#7eab52" stroke="#55783a" stroke-width="0.45"/>
<circle cx="415.00" cy="680.60" r="1.65" fill="#7eab52" stroke="#55783a" stroke-width="0.45"/>
<path d="M439.80 604.05 L441.70 607.47 L437.90 607.47 Z" fill="#243e68" stroke="#102440" stroke-width="0.5" stroke-linejoin="round"/>
<rect x="438.15" y="628.65" width="3.30" height="3.30" fill="#c0123a" stroke="#600818" stroke-width="0.5"/>
<path d="M434.10 666.35 L436.00 669.77 L432.20 669.77 Z" fill="#243e68" stroke="#102440" stroke-width="0.5" stroke-linejoin="round"/>
<path d="M439.10 669.25 L441.00 672.67 L437.20 672.67 Z" fill="#243e68" stroke="#102440" stroke-width="0.5" stroke-linejoin="round"/>
<rect x="442.85" y="669.05" width="3.30" height="3.30" fill="#c0123a" stroke="#600818" stroke-width="0.5"/>
<path d="M444.50 673.35 L446.40 676.77 L442.60 676.77 Z" fill="#243e68" stroke="#102440" stroke-width="0.5" stroke-linejoin="round"/>
<path d="M434.10 678.05 L436.00 681.47 L432.20 681.47 Z" fill="#a81234" stroke="#500818" stroke-width="0.5" stroke-linejoin="round"/>
<path d="M439.50 678.05 L441.40 681.47 L437.60 681.47 Z" fill="#a81234" stroke="#500818" stroke-width="0.5" stroke-linejoin="round"/>
<path d="M436.80 683.45 L438.70 686.87 L434.90 686.87 Z" fill="#243e68" stroke="#102440" stroke-width="0.5" stroke-linejoin="round"/>
<rect x="441.15" y="683.45" width="3.30" height="3.30" fill="#2b4882" stroke="#14264a" stroke-width="0.5"/>
<line x1="399.50" y1="681.80" x2="410.70" y2="681.80" stroke="#111" stroke-width="1.7" stroke-linecap="butt"/>
<line x1="405.10" y1="680.80" x2="405.10" y2="682.80" stroke="#111" stroke-width="1.2" stroke-linecap="butt"/>
<line x1="402.50" y1="680.80" x2="407.70" y2="680.80" stroke="#111" stroke-width="1.35" stroke-linecap="butt"/>
<line x1="402.50" y1="682.80" x2="407.70" y2="682.80" stroke="#111" stroke-width="1.35" stroke-linecap="butt"/>
<line x1="428.40" y1="665.30" x2="451.20" y2="665.30" stroke="#111" stroke-width="1.7" stroke-linecap="butt"/>
<line x1="439.70" y1="656.80" x2="439.70" y2="673.40" stroke="#111" stroke-width="1.2" stroke-linecap="butt"/>
<line x1="433.30" y1="656.80" x2="445.50" y2="656.80" stroke="#111" stroke-width="1.35" stroke-linecap="butt"/>
<line x1="433.30" y1="673.40" x2="445.50" y2="673.40" stroke="#111" stroke-width="1.35" stroke-linecap="butt"/>
<line x1="388.00" y1="600.90" x2="388.00" y2="691.15" stroke="#111" stroke-width="1.5" stroke-linecap="butt"/>
<line x1="387.25" y1="690.40" x2="456.30" y2="690.40" stroke="#111" stroke-width="1.5" stroke-linecap="butt"/>
<line x1="384.70" y1="690.40" x2="388.00" y2="690.40" stroke="#111" stroke-width="1.3" stroke-linecap="butt"/>
<text x="382.00" y="693.34" font-size="8.2" text-anchor="end" textLength="14.45" lengthAdjust="spacingAndGlyphs" class="tk">0.00</text>
<line x1="384.70" y1="668.77" x2="388.00" y2="668.77" stroke="#111" stroke-width="1.3" stroke-linecap="butt"/>
<text x="382.00" y="671.71" font-size="8.2" text-anchor="end" textLength="14.45" lengthAdjust="spacingAndGlyphs" class="tk">0.25</text>
<line x1="384.70" y1="647.15" x2="388.00" y2="647.15" stroke="#111" stroke-width="1.3" stroke-linecap="butt"/>
<text x="382.00" y="650.09" font-size="8.2" text-anchor="end" textLength="14.45" lengthAdjust="spacingAndGlyphs" class="tk">0.50</text>
<line x1="384.70" y1="625.52" x2="388.00" y2="625.52" stroke="#111" stroke-width="1.3" stroke-linecap="butt"/>
<text x="382.00" y="628.46" font-size="8.2" text-anchor="end" textLength="14.45" lengthAdjust="spacingAndGlyphs" class="tk">0.75</text>
<line x1="384.70" y1="603.90" x2="388.00" y2="603.90" stroke="#111" stroke-width="1.3" stroke-linecap="butt"/>
<text x="382.00" y="606.84" font-size="8.2" text-anchor="end" textLength="14.45" lengthAdjust="spacingAndGlyphs" class="tk">1.00</text>
<line x1="405.10" y1="690.40" x2="405.10" y2="693.10" stroke="#111" stroke-width="1.3" stroke-linecap="butt"/>
<line x1="439.70" y1="690.40" x2="439.70" y2="693.10" stroke="#111" stroke-width="1.3" stroke-linecap="butt"/>
<text x="405.10" y="703.80" font-size="8.2" text-anchor="middle" textLength="12.80" lengthAdjust="spacingAndGlyphs" >WT</text>
<text x="416.70" y="703.80" font-size="8.2" textLength="47.0" lengthAdjust="spacingAndGlyphs" class="xl"><tspan font-style="italic">Asxl1</tspan><tspan font-size="6.0" font-style="italic" font-weight="bold" dy="-3.9">Y588X</tspan><tspan dy="3.9">Tg</tspan></text>
<text class="yl" x="0" y="0" font-size="9.4" text-anchor="middle" textLength="65.80" lengthAdjust="spacingAndGlyphs" transform="translate(360.00 645.80) rotate(-90)">Spleen weight (g)</text>
<rect x="458.50" y="340.50" width="5.80" height="5.80" fill="#2b4882" stroke="#14264a" stroke-width="0.7"/>
<rect x="458.50" y="353.10" width="5.80" height="5.80" fill="#c0123a" stroke="#600818" stroke-width="0.7"/>
<path d="M461.40 365.6 L464.40 371.0 L458.40 371.0 Z" fill="#243e68" stroke="#102440" stroke-width="0.6" stroke-linejoin="round"/>
<path d="M461.40 377.5 L464.40 382.9 L458.40 382.9 Z" fill="#a81234" stroke="#500818" stroke-width="0.6" stroke-linejoin="round"/>
<text x="469.60" y="346.44" font-size="8.2" text-anchor="start" textLength="19.60" lengthAdjust="spacingAndGlyphs" >MPN</text>
<text x="469.60" y="358.74" font-size="8.2" text-anchor="start" textLength="38.00" lengthAdjust="spacingAndGlyphs" >Leukemia</text>
<text x="469.60" y="371.44" font-size="8.2" text-anchor="start" textLength="41.90" lengthAdjust="spacingAndGlyphs" >MDS/MPN</text>
<text x="469.60" y="382.94" font-size="8.2" text-anchor="start" textLength="19.40" lengthAdjust="spacingAndGlyphs" >MDS</text>
<rect x="0.00" y="0.00" width="520.00" height="1.60" fill="#000"/>
<rect x="0.00" y="0.00" width="1.60" height="713.00" fill="#000"/>
<rect x="518.20" y="0.00" width="1.80" height="713.00" fill="#000"/>
<rect x="0.00" y="710.90" width="520.00" height="2.10" fill="#000"/>
</svg>
</body></html>
